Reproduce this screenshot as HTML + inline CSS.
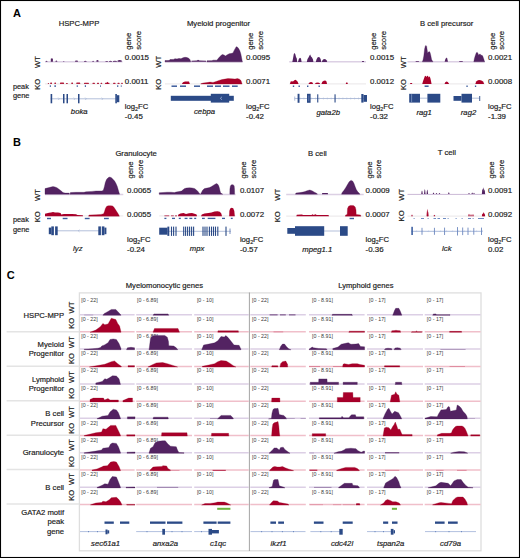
<!DOCTYPE html>
<html><head><meta charset="utf-8"><style>
html,body{margin:0;padding:0;background:#fff;width:520px;height:558px;overflow:hidden}
text{font-family:"Liberation Sans",sans-serif}
</style></head><body>
<svg width="520" height="558" viewBox="0 0 520 558" style="position:absolute;left:0;top:0;font-family:'Liberation Sans', sans-serif">
<rect x="0" y="0" width="520" height="558" fill="#fff"/>
<text x="13" y="17.2" font-size="11" text-anchor="start" fill="#000" font-weight="bold">A</text>
<text x="13" y="146" font-size="11" text-anchor="start" fill="#000" font-weight="bold">B</text>
<text x="6.8" y="278.6" font-size="11" text-anchor="start" fill="#000" font-weight="bold">C</text>
<text x="58.7" y="26.2" font-size="7.7" text-anchor="start" fill="#1a1a1a" stroke="#1a1a1a" stroke-width="0.18">HSPC-MPP</text>
<text x="186.9" y="26.2" font-size="7.7" text-anchor="start" fill="#1a1a1a" stroke="#1a1a1a" stroke-width="0.18">Myeloid progenitor</text>
<text x="420" y="26.2" font-size="7.7" text-anchor="start" fill="#1a1a1a" stroke="#1a1a1a" stroke-width="0.18">B cell precursor</text>
<text x="13" y="89.3" font-size="7.3" text-anchor="start" fill="#1a1a1a" stroke="#1a1a1a" stroke-width="0.18">peak</text>
<text x="13" y="98.4" font-size="7.4" text-anchor="start" fill="#1a1a1a" stroke="#1a1a1a" stroke-width="0.18">gene</text>
<text x="40" y="62" font-size="7.7" text-anchor="middle" fill="#1a1a1a" stroke="#1a1a1a" stroke-width="0.18" transform="rotate(-90 40 62)">WT</text>
<text x="40" y="84.3" font-size="7.7" text-anchor="middle" fill="#1a1a1a" stroke="#1a1a1a" stroke-width="0.18" transform="rotate(-90 40 84.3)">KO</text>
<line x1="45" y1="61.8" x2="122.5" y2="61.8" stroke="#dcd0e4" stroke-width="1.5"/>
<line x1="45" y1="83.9" x2="122.5" y2="83.9" stroke="#eeebed" stroke-width="1.3"/>
<path d="M45.7,61.8 L45.7,61.2 L46.55,60.8 L47.4,61.2 L47.4,61.8 Z" fill="#532362"/>
<path d="M50.8,61.8 L50.8,58.7 L51.85,58.3 L52.9,58.7 L52.9,61.8 Z" fill="#532362"/>
<path d="M55.5,61.8 L55.5,61 L56.35,60.6 L57.2,61 L57.2,61.8 Z" fill="#532362"/>
<path d="M63.2,61.8 L63.2,61.4 L63.8,61 L64.4,61.4 L64.4,61.8 Z" fill="#532362"/>
<path d="M75.1,61.8 L75.1,60.8 L76.5,60.4 L77.9,60.8 L77.9,61.8 Z" fill="#532362"/>
<path d="M84,61.8 L84,61.2 L85.3,60.8 L86.6,61.2 L86.6,61.8 Z" fill="#532362"/>
<path d="M92.3,61.8 L92.3,61.2 L93.1,60.8 L93.9,61.2 L93.9,61.8 Z" fill="#532362"/>
<path d="M96.4,61.8 L96.4,60.4 L97.45,60 L98.5,60.4 L98.5,61.8 Z" fill="#532362"/>
<path d="M105.4,61.8 L105.4,61.3 L106.7,60.9 L108,61.3 L108,61.8 Z" fill="#532362"/>
<path d="M109,61.8 L109,61.2 L110.5,60.8 L112,61.2 L112,61.8 Z" fill="#532362"/>
<path d="M113,61.8 L113,61.1 L114.9,60.7 L116.8,61.1 L116.8,61.8 Z" fill="#532362"/>
<path d="M117.6,61.8 L117.6,60.5 L119.65,60.1 L121.7,60.5 L121.7,61.8 Z" fill="#532362"/>
<path d="M47.8,84 L47.8,83.4 L48.2,82.9 L48.6,82.9 L49,83.4 L49,84 Z" fill="#b3213f"/>
<path d="M50.2,84 L50.2,82.9 L50.6,82.4 L51.6,82.4 L52,82.9 L52,84 Z" fill="#b3213f"/>
<path d="M54.4,84 L54.4,83.1 L54.8,82.6 L55.6,82.6 L56,83.1 L56,84 Z" fill="#b3213f"/>
<path d="M60,84 L60,83 L60.4,82.5 L63.6,82.5 L64,83 L64,84 Z" fill="#b3213f"/>
<path d="M66,84 L66,83.4 L66.4,82.9 L67.4,82.9 L67.8,83.4 L67.8,84 Z" fill="#b3213f"/>
<path d="M71.3,84 L71.3,83.1 L71.7,82.6 L72.6,82.6 L73,83.1 L73,84 Z" fill="#b3213f"/>
<path d="M76.3,84 L76.3,83 L76.7,82.5 L79.8,82.5 L80.2,83 L80.2,84 Z" fill="#b3213f"/>
<path d="M84,84 L84,83.3 L84.4,82.8 L88.5,82.8 L88.9,83.3 L88.9,84 Z" fill="#b3213f"/>
<path d="M92.5,84 L92.5,83.3 L92.9,82.8 L94.5,82.8 L94.9,83.3 L94.9,84 Z" fill="#b3213f"/>
<path d="M97,84 L97,83.3 L97.4,82.8 L98.6,82.8 L99,83.3 L99,84 Z" fill="#b3213f"/>
<path d="M100.6,84 L100.6,83.3 L101,82.8 L101.8,82.8 L102.2,83.3 L102.2,84 Z" fill="#b3213f"/>
<path d="M105,84 L105,83.3 L105.4,82.8 L109.1,82.8 L109.5,83.3 L109.5,84 Z" fill="#b3213f"/>
<path d="M113.1,84 L113.1,83.3 L113.5,82.8 L115.1,82.8 L115.5,83.3 L115.5,84 Z" fill="#b3213f"/>
<path d="M117.5,84 L117.5,83.3 L117.9,82.8 L119.2,82.8 L119.6,83.3 L119.6,84 Z" fill="#b3213f"/>
<path d="M121.2,84 L121.2,83.3 L121.6,82.8 L122.4,82.8 L122.8,83.3 L122.8,84 Z" fill="#b3213f"/>
<path d="M106.6,84 L106.6,83 L107.4,81.8 L108.2,83 L108.2,84 Z" fill="#a8002a"/>
<rect x="49.8" y="85.3" width="1.1" height="1.6" fill="#3c5c9c"/>
<rect x="54.4" y="85.3" width="1.5" height="1.6" fill="#3c5c9c"/>
<rect x="76.7" y="85.3" width="1.1" height="1.6" fill="#3c5c9c"/>
<rect x="84.8" y="85.3" width="1.2" height="1.6" fill="#3c5c9c"/>
<rect x="100.2" y="85.3" width="0.8" height="1.6" fill="#3c5c9c"/>
<rect x="117.1" y="85.3" width="1.2" height="1.6" fill="#3c5c9c"/>
<rect x="120.8" y="85.3" width="0.8" height="1.6" fill="#3c5c9c"/>
<line x1="50.6" y1="98.8" x2="118.8" y2="98.8" stroke="#aab8d6" stroke-width="0.9"/>
<path d="M58.2,97.6 L59.4,98.8 L58.2,100" fill="none" stroke="#aab8d6" stroke-width="0.7"/>
<path d="M73.8,97.6 L75,98.8 L73.8,100" fill="none" stroke="#aab8d6" stroke-width="0.7"/>
<path d="M85.2,97.6 L86.4,98.8 L85.2,100" fill="none" stroke="#aab8d6" stroke-width="0.7"/>
<path d="M101.7,97.6 L102.9,98.8 L101.7,100" fill="none" stroke="#aab8d6" stroke-width="0.7"/>
<rect x="50.6" y="94" width="1.6" height="9.3" fill="#2b4a87"/>
<rect x="63" y="94" width="1.5" height="9.3" fill="#2b4a87"/>
<rect x="66.5" y="94" width="1.5" height="9.3" fill="#2b4a87"/>
<rect x="78" y="94" width="1.5" height="9.3" fill="#2b4a87"/>
<rect x="115.3" y="94" width="1.6" height="9.3" fill="#2b4a87"/>
<rect x="116.9" y="95.2" width="2.4" height="7" fill="#2b4a87"/>
<text x="79.2" y="113.8" font-size="7.7" text-anchor="middle" fill="#1a1a1a" stroke="#1a1a1a" stroke-width="0.18" font-style="italic">boka</text>
<text x="131.5" y="49.8" font-size="7.7" text-anchor="start" fill="#1a1a1a" stroke="#1a1a1a" stroke-width="0.18" transform="rotate(-90 131.5 49.8)">gene</text>
<text x="141" y="49.8" font-size="7.7" text-anchor="start" fill="#1a1a1a" stroke="#1a1a1a" stroke-width="0.18" transform="rotate(-90 141 49.8)">score</text>
<text x="124.8" y="59.8" font-size="7.9" text-anchor="start" fill="#1a1a1a" stroke="#1a1a1a" stroke-width="0.18">0.0015</text>
<text x="124.8" y="83.7" font-size="7.9" text-anchor="start" fill="#1a1a1a" stroke="#1a1a1a" stroke-width="0.18">0.0011</text>
<text x="124.8" y="109" font-size="7.7" fill="#1a1a1a" stroke="#1a1a1a" stroke-width="0.18">log<tspan font-size="5.3" dy="2">2</tspan><tspan dy="-2">FC</tspan></text>
<text x="124.8" y="118.6" font-size="7.9" text-anchor="start" fill="#1a1a1a" stroke="#1a1a1a" stroke-width="0.18">-0.45</text>
<text x="160.8" y="61.7" font-size="7.7" text-anchor="middle" fill="#1a1a1a" stroke="#1a1a1a" stroke-width="0.18" transform="rotate(-90 160.8 61.7)">WT</text>
<text x="160.8" y="84.3" font-size="7.7" text-anchor="middle" fill="#1a1a1a" stroke="#1a1a1a" stroke-width="0.18" transform="rotate(-90 160.8 84.3)">KO</text>
<line x1="165" y1="61.8" x2="242.8" y2="61.8" stroke="#dcd0e4" stroke-width="1.5"/>
<line x1="165" y1="83.9" x2="242.8" y2="83.9" stroke="#eeebed" stroke-width="1.3"/>
<path d="M165,61.8 L165,60.6 L169,60.6 L170,59.6 L173.5,59.4 L175,58.7 L177,59 L179,58.4 L181,58.8 L183,57.8 L185,57.3 L187,57.6 L189,58.5 L190,59.8 L190.6,61.8 L190.6,61.8 Z" fill="#532362" stroke="#42154f" stroke-width="0.4" stroke-linejoin="round"/>
<path d="M191.5,61.8 L191.5,60.7 L197,60.6 L198,59.8 L199.5,60.6 L206,60.7 L206,61.8 Z" fill="#532362"/>
<path d="M207,61.8 L207,60.8 L212,60.7 L213,60.2 L217,60.2 L218,58.8 L219.3,57.2 L221,55.6 L222.3,54.6 L224,55 L225.4,56 L227,55 L229.2,53.8 L231,53.6 L233,53 L234.2,50.4 L236.3,46.7 L237.5,47.2 L238.6,48.6 L239.8,50.8 L240.8,54 L241.5,57.5 L242.3,61.8 L242.3,61.8 Z" fill="#532362" stroke="#42154f" stroke-width="0.4" stroke-linejoin="round"/>
<path d="M182,84 L182,83.8 L183,82.2 L185,81.6 L189,81.6 L189.8,83.8 L189.8,84 Z" fill="#a8002a"/>
<path d="M200.8,84 L200.8,83.8 L203,83.1 L207,82.6 L210,82.1 L213,82.4 L216,81.6 L219,80.4 L222,79.6 L225,79.1 L228,78.6 L232,78.8 L235,79.1 L237.5,78.5 L239.5,79.2 L241,80.6 L242,83.8 L242,84 Z" fill="#a8002a" stroke="#93001f" stroke-width="0.3" stroke-linejoin="round"/>
<rect x="171.5" y="85.45" width="5.5" height="1.5" fill="#3c5c9c"/>
<rect x="180" y="85.45" width="6" height="1.5" fill="#3c5c9c"/>
<rect x="194" y="85.45" width="6" height="1.5" fill="#3c5c9c"/>
<rect x="207" y="85.45" width="6" height="1.5" fill="#3c5c9c"/>
<rect x="215" y="85.45" width="6" height="1.5" fill="#3c5c9c"/>
<rect x="223" y="85.45" width="6.5" height="1.5" fill="#3c5c9c"/>
<rect x="232" y="85.45" width="5.7" height="1.5" fill="#3c5c9c"/>
<rect x="170.8" y="95.8" width="63" height="5" fill="#2b4a87"/>
<rect x="210.8" y="93.8" width="18.4" height="8.8" fill="#2b4a87"/>
<path d="M222,96.8 L220.3,98.3 L222,99.8" fill="none" stroke="#9fb0d4" stroke-width="0.8"/>
<text x="204.5" y="114.2" font-size="7.7" text-anchor="middle" fill="#1a1a1a" stroke="#1a1a1a" stroke-width="0.18" font-style="italic">cebpa</text>
<text x="253.2" y="49.8" font-size="7.7" text-anchor="start" fill="#1a1a1a" stroke="#1a1a1a" stroke-width="0.18" transform="rotate(-90 253.2 49.8)">gene</text>
<text x="262.7" y="49.8" font-size="7.7" text-anchor="start" fill="#1a1a1a" stroke="#1a1a1a" stroke-width="0.18" transform="rotate(-90 262.7 49.8)">score</text>
<text x="246" y="59.8" font-size="7.9" text-anchor="start" fill="#1a1a1a" stroke="#1a1a1a" stroke-width="0.18">0.0095</text>
<text x="246" y="83.7" font-size="7.9" text-anchor="start" fill="#1a1a1a" stroke="#1a1a1a" stroke-width="0.18">0.0071</text>
<text x="246" y="109" font-size="7.7" fill="#1a1a1a" stroke="#1a1a1a" stroke-width="0.18">log<tspan font-size="5.3" dy="2">2</tspan><tspan dy="-2">FC</tspan></text>
<text x="246" y="118.6" font-size="7.9" text-anchor="start" fill="#1a1a1a" stroke="#1a1a1a" stroke-width="0.18">-0.42</text>
<line x1="289.2" y1="61.8" x2="366" y2="61.8" stroke="#dcd0e4" stroke-width="1.5"/>
<line x1="289.2" y1="83.9" x2="366" y2="83.9" stroke="#eeebed" stroke-width="1.3"/>
<path d="M292.3,62 L292.3,62 L293,58.5 L293.8,54 L294.6,53 L295.4,54.5 L296,57 L296.8,58.5 L297.2,62 L297.2,62 Z" fill="#532362"/>
<path d="M298,62 L298,62 L298.8,59 L300,57.7 L301,58.5 L301.6,62 L301.6,62 Z" fill="#532362"/>
<path d="M306.8,62 L306.8,62 L307.5,59 L308.5,57.6 L309.5,55.6 L310.2,54.6 L311,56.5 L312,57.6 L313,59.5 L313.4,62 L313.4,62 Z" fill="#532362"/>
<path d="M315.8,62 L315.8,62 L316.5,59.5 L317.5,57.5 L318.5,57 L319.8,57.6 L320.6,59 L321.3,62 L321.3,62 Z" fill="#532362"/>
<path d="M321.8,62 L321.8,62 L322.6,60 L324,59 L325.5,59.2 L326.5,60.2 L327.2,62 L327.2,62 Z" fill="#532362"/>
<path d="M361.8,62 L361.8,62 L362.4,61 L363.6,61 L364.2,62 L364.2,62 Z" fill="#532362"/>
<path d="M290,84 L290,83.8 L290.6,81.6 L292,81.2 L293,81.5 L294.4,80.3 L295.4,79.8 L296.5,80.6 L297.5,81.4 L298.5,83.8 L298.5,84 Z" fill="#a8002a"/>
<path d="M308.5,84 L308.5,83.8 L309.5,82.4 L311,82 L312.5,82.6 L313,83.8 L313,84 Z" fill="#a8002a"/>
<path d="M315,84 L315,83.8 L316,82.7 L318,82.5 L319.5,83 L320,83.8 L320,84 Z" fill="#a8002a"/>
<path d="M321.5,84 L321.5,83.8 L322.3,81.8 L323.8,80.8 L325.3,80.6 L326.5,81.6 L327,83.8 L327,84 Z" fill="#a8002a"/>
<path d="M345.8,84 L345.8,83.8 L346.2,82.6 L347.4,82.6 L347.8,83.8 L347.8,84 Z" fill="#a8002a"/>
<rect x="292.8" y="85.5" width="1.4" height="1.5" fill="#3c5c9c"/>
<rect x="298.5" y="85.5" width="1.4" height="1.5" fill="#3c5c9c"/>
<rect x="307" y="85.5" width="1.4" height="1.5" fill="#3c5c9c"/>
<rect x="318.5" y="85.5" width="1.4" height="1.5" fill="#3c5c9c"/>
<line x1="294.5" y1="98.5" x2="366" y2="98.5" stroke="#aab8d6" stroke-width="0.9"/>
<line x1="300" y1="97.6" x2="300" y2="99.4" stroke="#aab8d6" stroke-width="0.6"/>
<line x1="303.9" y1="97.6" x2="303.9" y2="99.4" stroke="#aab8d6" stroke-width="0.6"/>
<line x1="307.8" y1="97.6" x2="307.8" y2="99.4" stroke="#aab8d6" stroke-width="0.6"/>
<line x1="311.7" y1="97.6" x2="311.7" y2="99.4" stroke="#aab8d6" stroke-width="0.6"/>
<line x1="315.6" y1="97.6" x2="315.6" y2="99.4" stroke="#aab8d6" stroke-width="0.6"/>
<line x1="319.5" y1="97.6" x2="319.5" y2="99.4" stroke="#aab8d6" stroke-width="0.6"/>
<line x1="323.4" y1="97.6" x2="323.4" y2="99.4" stroke="#aab8d6" stroke-width="0.6"/>
<line x1="327.3" y1="97.6" x2="327.3" y2="99.4" stroke="#aab8d6" stroke-width="0.6"/>
<line x1="331.2" y1="97.6" x2="331.2" y2="99.4" stroke="#aab8d6" stroke-width="0.6"/>
<line x1="335.1" y1="97.6" x2="335.1" y2="99.4" stroke="#aab8d6" stroke-width="0.6"/>
<line x1="339" y1="97.6" x2="339" y2="99.4" stroke="#aab8d6" stroke-width="0.6"/>
<line x1="342.9" y1="97.6" x2="342.9" y2="99.4" stroke="#aab8d6" stroke-width="0.6"/>
<line x1="346.8" y1="97.6" x2="346.8" y2="99.4" stroke="#aab8d6" stroke-width="0.6"/>
<line x1="350.7" y1="97.6" x2="350.7" y2="99.4" stroke="#aab8d6" stroke-width="0.6"/>
<line x1="354.6" y1="97.6" x2="354.6" y2="99.4" stroke="#aab8d6" stroke-width="0.6"/>
<line x1="358.5" y1="97.6" x2="358.5" y2="99.4" stroke="#aab8d6" stroke-width="0.6"/>
<line x1="362.4" y1="97.6" x2="362.4" y2="99.4" stroke="#aab8d6" stroke-width="0.6"/>
<rect x="294.3" y="96.5" width="0.9" height="4.2" fill="#aab8d6"/>
<rect x="297.6" y="93.8" width="1.9" height="9" fill="#2b4a87"/>
<rect x="307" y="93.8" width="3.6" height="9" fill="#2b4a87"/>
<line x1="308.8" y1="95.5" x2="308.8" y2="101.2" stroke="#7d93c2" stroke-width="0.6"/>
<rect x="317.2" y="94.3" width="1.1" height="8.2" fill="#2b4a87"/>
<rect x="334.5" y="94.3" width="1.1" height="8.2" fill="#2b4a87"/>
<rect x="361.3" y="94" width="2.2" height="8.6" fill="#2b4a87"/>
<rect x="363.5" y="95" width="3.5" height="6.8" fill="#2b4a87"/>
<text x="328.2" y="114.5" font-size="7.7" text-anchor="middle" fill="#1a1a1a" stroke="#1a1a1a" stroke-width="0.18" font-style="italic">gata2b</text>
<text x="376.2" y="49.8" font-size="7.7" text-anchor="start" fill="#1a1a1a" stroke="#1a1a1a" stroke-width="0.18" transform="rotate(-90 376.2 49.8)">gene</text>
<text x="385.7" y="49.8" font-size="7.7" text-anchor="start" fill="#1a1a1a" stroke="#1a1a1a" stroke-width="0.18" transform="rotate(-90 385.7 49.8)">score</text>
<text x="370" y="59.8" font-size="7.9" text-anchor="start" fill="#1a1a1a" stroke="#1a1a1a" stroke-width="0.18">0.0015</text>
<text x="370" y="83.7" font-size="7.9" text-anchor="start" fill="#1a1a1a" stroke="#1a1a1a" stroke-width="0.18">0.0012</text>
<text x="370" y="109" font-size="7.7" fill="#1a1a1a" stroke="#1a1a1a" stroke-width="0.18">log<tspan font-size="5.3" dy="2">2</tspan><tspan dy="-2">FC</tspan></text>
<text x="370" y="118.6" font-size="7.9" text-anchor="start" fill="#1a1a1a" stroke="#1a1a1a" stroke-width="0.18">-0.32</text>
<text x="406" y="62.3" font-size="7.7" text-anchor="middle" fill="#1a1a1a" stroke="#1a1a1a" stroke-width="0.18" transform="rotate(-90 406 62.3)">WT</text>
<text x="406" y="84.5" font-size="7.7" text-anchor="middle" fill="#1a1a1a" stroke="#1a1a1a" stroke-width="0.18" transform="rotate(-90 406 84.5)">KO</text>
<line x1="407.5" y1="61.8" x2="485" y2="61.8" stroke="#dcd0e4" stroke-width="1.5"/>
<line x1="407.5" y1="83.9" x2="485" y2="83.9" stroke="#eeebed" stroke-width="1.3"/>
<path d="M415.4,61.8 L415.4,61.8 L416,61 L418.6,61 L419.2,61.8 L419.2,61.8 Z" fill="#532362"/>
<path d="M422.3,61.8 L422.3,61.8 L423,60 L423.8,56 L424.6,49 L425.3,46 L425.9,45.4 L426.6,46.3 L427.2,50 L427.7,53.2 L428.4,52 L429.2,51.5 L430,52.3 L430.8,55.5 L431.6,59.5 L432.5,61 L433,61.8 L433,61.8 Z" fill="#532362" stroke="#42154f" stroke-width="0.3" stroke-linejoin="round"/>
<path d="M444.6,61.8 L444.6,61.8 L445.3,59.5 L446.2,57.6 L447.2,58.5 L448,61.8 L448,61.8 Z" fill="#532362"/>
<path d="M459,61.8 L459,61.8 L459.5,61 L462.5,61 L463,61.8 L463,61.8 Z" fill="#532362"/>
<path d="M473.8,61.8 L473.8,61.8 L474.4,58.5 L475.3,55.5 L476.3,52.8 L477.2,52.3 L478,53.5 L478.7,55.2 L479.4,54.2 L480.2,54 L481,55.5 L481.8,55 L482.7,56 L483.6,58.5 L484.6,61.8 L484.6,61.8 Z" fill="#532362" stroke="#42154f" stroke-width="0.3" stroke-linejoin="round"/>
<path d="M410,84 L410,83.8 L410.5,83 L411.8,83 L412.3,83.8 L412.3,84 Z" fill="#a8002a"/>
<path d="M422.3,84 L422.3,83.8 L423,81.2 L424,78.5 L424.8,76.2 L425.6,75.8 L426.4,77 L427.2,75.8 L428,76 L428.8,77.5 L429.5,76.3 L430.3,78 L431,81 L431.5,83.8 L431.5,84 Z" fill="#a8002a"/>
<path d="M444.6,84 L444.6,83.8 L445.3,82.2 L446.5,81.4 L447.8,82 L449,83.8 L449,84 Z" fill="#a8002a"/>
<path d="M475.4,84 L475.4,83.8 L476.2,81.6 L477.5,80.4 L479,80 L480.5,80.3 L482,80.8 L483.3,81.8 L484,83.8 L484,84 Z" fill="#a8002a"/>
<rect x="424.6" y="85.45" width="4" height="1.5" fill="#3c5c9c"/>
<rect x="466.4" y="85.5" width="1.3" height="1.5" fill="#3c5c9c"/>
<rect x="474.9" y="85.5" width="1.3" height="1.5" fill="#3c5c9c"/>
<line x1="420" y1="98.2" x2="427.4" y2="98.2" stroke="#aab8d6" stroke-width="0.9"/>
<line x1="472" y1="98.2" x2="479.7" y2="98.2" stroke="#aab8d6" stroke-width="0.9"/>
<rect x="409.2" y="93.8" width="10.8" height="8.8" fill="#2b4a87"/>
<line x1="411.6" y1="94.2" x2="411.6" y2="102.2" stroke="#8ea2cc" stroke-width="0.7"/>
<rect x="427.4" y="93.8" width="12.9" height="8.8" fill="#2b4a87"/>
<rect x="453.5" y="96" width="8" height="4.8" fill="#2b4a87"/>
<rect x="461.5" y="93.8" width="10.5" height="8.8" fill="#2b4a87"/>
<rect x="479.3" y="96" width="0.9" height="5" fill="#2b4a87"/>
<text x="424.2" y="114.5" font-size="7.7" text-anchor="middle" fill="#1a1a1a" stroke="#1a1a1a" stroke-width="0.18" font-style="italic">rag1</text>
<text x="468.5" y="114.5" font-size="7.7" text-anchor="middle" fill="#1a1a1a" stroke="#1a1a1a" stroke-width="0.18" font-style="italic">rag2</text>
<text x="495" y="49.8" font-size="7.7" text-anchor="start" fill="#1a1a1a" stroke="#1a1a1a" stroke-width="0.18" transform="rotate(-90 495 49.8)">gene</text>
<text x="504.5" y="49.8" font-size="7.7" text-anchor="start" fill="#1a1a1a" stroke="#1a1a1a" stroke-width="0.18" transform="rotate(-90 504.5 49.8)">score</text>
<text x="488" y="59.8" font-size="7.9" text-anchor="start" fill="#1a1a1a" stroke="#1a1a1a" stroke-width="0.18">0.0021</text>
<text x="488" y="83.7" font-size="7.9" text-anchor="start" fill="#1a1a1a" stroke="#1a1a1a" stroke-width="0.18">0.0008</text>
<text x="488" y="109" font-size="7.7" fill="#1a1a1a" stroke="#1a1a1a" stroke-width="0.18">log<tspan font-size="5.3" dy="2">2</tspan><tspan dy="-2">FC</tspan></text>
<text x="488" y="118.6" font-size="7.9" text-anchor="start" fill="#1a1a1a" stroke="#1a1a1a" stroke-width="0.18">-1.39</text>
<text x="115.4" y="155.8" font-size="7.7" text-anchor="start" fill="#1a1a1a" stroke="#1a1a1a" stroke-width="0.18">Granulocyte</text>
<text x="308" y="155.5" font-size="7.7" text-anchor="start" fill="#1a1a1a" stroke="#1a1a1a" stroke-width="0.18">B cell</text>
<text x="437.8" y="155.3" font-size="7.7" text-anchor="start" fill="#1a1a1a" stroke="#1a1a1a" stroke-width="0.18">T cell</text>
<text x="13" y="221.8" font-size="7.3" text-anchor="start" fill="#1a1a1a" stroke="#1a1a1a" stroke-width="0.18">peak</text>
<text x="13" y="232.4" font-size="7.4" text-anchor="start" fill="#1a1a1a" stroke="#1a1a1a" stroke-width="0.18">gene</text>
<text x="39.6" y="194.9" font-size="7.7" text-anchor="middle" fill="#1a1a1a" stroke="#1a1a1a" stroke-width="0.18" transform="rotate(-90 39.6 194.9)">WT</text>
<text x="39.6" y="216.7" font-size="7.7" text-anchor="middle" fill="#1a1a1a" stroke="#1a1a1a" stroke-width="0.18" transform="rotate(-90 39.6 216.7)">KO</text>
<line x1="45" y1="194.4" x2="123.3" y2="194.4" stroke="#dcd0e4" stroke-width="1.5"/>
<line x1="45" y1="215.9" x2="123.3" y2="215.9" stroke="#eeebed" stroke-width="1.3"/>
<path d="M45,194.2 L45,188.6 L47,188.1 L49,187.6 L51,187 L53,186.6 L55,186.9 L57,187.8 L59,189.2 L61,190.8 L63,192.6 L65,193.1 L69.2,193.1 L69.4,194.2 L69.4,194.2 Z" fill="#532362" stroke="#42154f" stroke-width="0.3" stroke-linejoin="round"/>
<path d="M70,194.2 L70,194.2 L70.4,192.5 L76,192.3 L84,192.3 L86,191.8 L92,191.4 L96,191 L102,190.9 L103.3,190.2 L104.3,187 L105.3,182.5 L106.5,179.5 L108,177.8 L109.8,177 L111.5,177.8 L113,179.2 L114.6,181 L116,183.5 L117.3,186.5 L118.3,190 L119.2,193 L119.6,194.2 L119.6,194.2 Z" fill="#532362" stroke="#42154f" stroke-width="0.3" stroke-linejoin="round"/>
<path d="M45,216.2 L45,213.8 L47,213.3 L49,212.8 L51,212.4 L53,212.1 L55,212.4 L58,212.5 L60.6,212.9 L61.2,214.4 L64,214.1 L72,214.1 L76,214.3 L77.5,215 L82.8,215.3 L83,216.2 L83,216.2 Z" fill="#a8002a"/>
<path d="M88.6,216.2 L88.6,216.2 L89,215.1 L96,214.8 L101,214.4 L103.6,213.8 L104.5,211.5 L105.5,208.2 L106.8,206.2 L108.5,205.7 L111,205.7 L112.6,206 L114,207.3 L115.6,209.8 L117.2,212.3 L118.6,214.5 L119.4,216.2 L119.4,216.2 Z" fill="#a8002a" stroke="#93001f" stroke-width="0.3" stroke-linejoin="round"/>
<rect x="47" y="217.8" width="4" height="1.4" fill="#3c5c9c"/>
<rect x="62.7" y="217.8" width="4.8" height="1.4" fill="#3c5c9c"/>
<rect x="84.8" y="217.8" width="4.8" height="1.4" fill="#3c5c9c"/>
<rect x="104" y="217.8" width="4.8" height="1.4" fill="#3c5c9c"/>
<line x1="57" y1="230.8" x2="99" y2="230.8" stroke="#aab8d6" stroke-width="0.9"/>
<path d="M79.5,229.7 L78.2,230.8 L79.5,231.9" fill="none" stroke="#aab8d6" stroke-width="0.7"/>
<rect x="48.8" y="227.6" width="2.6" height="6.6" fill="#2b4a87"/>
<rect x="51.3" y="226.4" width="2.6" height="8.8" fill="#2b4a87"/>
<rect x="55.1" y="226.4" width="2.6" height="8.8" fill="#2b4a87"/>
<rect x="98.3" y="226.4" width="2.6" height="8.8" fill="#2b4a87"/>
<rect x="101.8" y="226.4" width="2.6" height="8.8" fill="#2b4a87"/>
<rect x="104.4" y="227.6" width="2" height="6.6" fill="#2b4a87"/>
<text x="77.8" y="251" font-size="7.7" text-anchor="middle" fill="#1a1a1a" stroke="#1a1a1a" stroke-width="0.18" font-style="italic">lyz</text>
<text x="133" y="178.5" font-size="7.7" text-anchor="start" fill="#1a1a1a" stroke="#1a1a1a" stroke-width="0.18" transform="rotate(-90 133 178.5)">gene</text>
<text x="142.5" y="178.5" font-size="7.7" text-anchor="start" fill="#1a1a1a" stroke="#1a1a1a" stroke-width="0.18" transform="rotate(-90 142.5 178.5)">score</text>
<text x="127" y="192.6" font-size="7.9" text-anchor="start" fill="#1a1a1a" stroke="#1a1a1a" stroke-width="0.18">0.0065</text>
<text x="127" y="217.3" font-size="7.9" text-anchor="start" fill="#1a1a1a" stroke="#1a1a1a" stroke-width="0.18">0.0055</text>
<text x="127" y="242.3" font-size="7.7" fill="#1a1a1a" stroke="#1a1a1a" stroke-width="0.18">log<tspan font-size="5.3" dy="2">2</tspan><tspan dy="-2">FC</tspan></text>
<text x="127" y="251.9" font-size="7.9" text-anchor="start" fill="#1a1a1a" stroke="#1a1a1a" stroke-width="0.18">-0.24</text>
<line x1="159.2" y1="194.4" x2="235.6" y2="194.4" stroke="#dcd0e4" stroke-width="1.5"/>
<line x1="159.2" y1="215.9" x2="235.6" y2="215.9" stroke="#eeebed" stroke-width="1.3"/>
<path d="M159.2,194.2 L159.2,192.7 L163,192.5 L167,192.2 L171,192.2 L174.5,192.6 L176,192.1 L179,191.6 L181.5,191 L183,189.8 L184.6,188.6 L186.5,188 L189.5,187.8 L192,187.9 L194.5,188.5 L196.2,189.7 L198,191.5 L199.4,193.4 L200.4,194.2 L200.4,194.2 Z" fill="#532362" stroke="#42154f" stroke-width="0.3" stroke-linejoin="round"/>
<path d="M200.6,194.2 L200.6,194.2 L201.4,192.4 L202.8,190 L204.5,188.6 L207,188.1 L209.5,187.6 L211.5,186.6 L213.5,185.2 L215.2,184.3 L216.3,183.6 L217.5,184 L218.6,185.5 L219.4,188 L220,190.8 L220.6,192.8 L221.6,193.6 L222.7,194.2 L222.7,194.2 Z" fill="#532362" stroke="#42154f" stroke-width="0.3" stroke-linejoin="round"/>
<path d="M229.8,194.2 L229.8,194.2 L229.9,189 L230.4,186 L231.4,184.8 L233.2,184.7 L234.2,186 L234.5,189 L234.6,194.2 L234.6,194.2 Z" fill="#532362" stroke="#42154f" stroke-width="0.3" stroke-linejoin="round"/>
<path d="M164.4,216.2 L164.4,215.5 L169.2,215.5 L169.2,216.2 Z" fill="#a8002a"/>
<path d="M171,216.2 L171,215.5 L173.8,215.5 L173.8,216.2 Z" fill="#a8002a"/>
<path d="M175,216.2 L175,215.5 L177,215.5 L177,216.2 Z" fill="#a8002a"/>
<path d="M177.9,216.2 L177.9,216.2 L178.4,214.6 L180.5,213.6 L183.5,213.1 L186,213.9 L189,213.2 L192,213 L194.5,213.8 L196.6,214.6 L197,216.2 L197,216.2 Z" fill="#a8002a"/>
<path d="M201,216.2 L201,216.2 L201.8,214.6 L204.5,213.6 L208.5,213 L211.5,212.4 L214.5,211.6 L217.5,211.2 L219.8,211.8 L221.3,213.6 L222,216.2 L222,216.2 Z" fill="#a8002a"/>
<path d="M229.2,216.2 L229.2,216.2 L229.4,211 L230.2,208.6 L231.6,207.7 L233.2,208.3 L234.3,211 L234.8,216.2 L234.8,216.2 Z" fill="#a8002a"/>
<rect x="164.4" y="217.75" width="2" height="1.3" fill="#3c5c9c"/>
<rect x="172" y="217.75" width="3" height="1.3" fill="#3c5c9c"/>
<rect x="178.8" y="217.75" width="2" height="1.3" fill="#3c5c9c"/>
<rect x="184.6" y="217.75" width="2.9" height="1.3" fill="#3c5c9c"/>
<rect x="189.4" y="217.75" width="2.9" height="1.3" fill="#3c5c9c"/>
<rect x="194.2" y="217.75" width="2" height="1.3" fill="#3c5c9c"/>
<rect x="202" y="217.75" width="2.8" height="1.3" fill="#3c5c9c"/>
<rect x="207.7" y="217.75" width="7.7" height="1.3" fill="#3c5c9c"/>
<rect x="222" y="217.75" width="3" height="1.3" fill="#3c5c9c"/>
<rect x="230.8" y="217.75" width="1.9" height="1.3" fill="#3c5c9c"/>
<line x1="167" y1="231.3" x2="231" y2="231.3" stroke="#aab8d6" stroke-width="0.9"/>
<rect x="159.2" y="227.7" width="8.3" height="7" fill="#2b4a87"/>
<rect x="167.4" y="226.6" width="1.9" height="9.3" fill="#2b4a87"/>
<rect x="170.95" y="226.6" width="1.1" height="9.3" fill="#2b4a87"/>
<rect x="173.05" y="226.6" width="1.1" height="9.3" fill="#2b4a87"/>
<rect x="175.45" y="226.6" width="1.1" height="9.3" fill="#2b4a87"/>
<rect x="183.15" y="226.6" width="1.1" height="9.3" fill="#2b4a87"/>
<rect x="185.05" y="226.6" width="1.1" height="9.3" fill="#2b4a87"/>
<rect x="187.05" y="226.6" width="1.1" height="9.3" fill="#2b4a87"/>
<rect x="189.05" y="226.6" width="1.1" height="9.3" fill="#2b4a87"/>
<rect x="191.05" y="226.6" width="1.1" height="9.3" fill="#2b4a87"/>
<rect x="193.05" y="226.6" width="1.1" height="9.3" fill="#2b4a87"/>
<rect x="202.45" y="226.6" width="1.1" height="9.3" fill="#2b4a87"/>
<rect x="204.45" y="226.6" width="1.1" height="9.3" fill="#2b4a87"/>
<rect x="206.45" y="226.6" width="1.1" height="9.3" fill="#2b4a87"/>
<rect x="208.85" y="226.6" width="1.1" height="9.3" fill="#2b4a87"/>
<rect x="210.95" y="226.6" width="1.1" height="9.3" fill="#2b4a87"/>
<rect x="212.95" y="226.6" width="1.1" height="9.3" fill="#2b4a87"/>
<rect x="214.95" y="226.6" width="1.1" height="9.3" fill="#2b4a87"/>
<rect x="217.25" y="226.6" width="1.1" height="9.3" fill="#2b4a87"/>
<rect x="225.45" y="226.6" width="1.1" height="9.3" fill="#2b4a87"/>
<rect x="229.6" y="228.5" width="0.8" height="5.5" fill="#5a76ae"/>
<text x="197" y="251.2" font-size="7.7" text-anchor="middle" fill="#1a1a1a" stroke="#1a1a1a" stroke-width="0.18" font-style="italic">mpx</text>
<text x="246" y="178.5" font-size="7.7" text-anchor="start" fill="#1a1a1a" stroke="#1a1a1a" stroke-width="0.18" transform="rotate(-90 246 178.5)">gene</text>
<text x="255.5" y="178.5" font-size="7.7" text-anchor="start" fill="#1a1a1a" stroke="#1a1a1a" stroke-width="0.18" transform="rotate(-90 255.5 178.5)">score</text>
<text x="239.9" y="192.6" font-size="7.9" text-anchor="start" fill="#1a1a1a" stroke="#1a1a1a" stroke-width="0.18">0.0107</text>
<text x="239.9" y="217.3" font-size="7.9" text-anchor="start" fill="#1a1a1a" stroke="#1a1a1a" stroke-width="0.18">0.0072</text>
<text x="239.9" y="242.3" font-size="7.7" fill="#1a1a1a" stroke="#1a1a1a" stroke-width="0.18">log<tspan font-size="5.3" dy="2">2</tspan><tspan dy="-2">FC</tspan></text>
<text x="239.9" y="251.9" font-size="7.9" text-anchor="start" fill="#1a1a1a" stroke="#1a1a1a" stroke-width="0.18">-0.57</text>
<text x="280.5" y="194.8" font-size="7.7" text-anchor="middle" fill="#1a1a1a" stroke="#1a1a1a" stroke-width="0.18" transform="rotate(-90 280.5 194.8)">WT</text>
<text x="280.5" y="216.8" font-size="7.7" text-anchor="middle" fill="#1a1a1a" stroke="#1a1a1a" stroke-width="0.18" transform="rotate(-90 280.5 216.8)">KO</text>
<line x1="286.2" y1="194.4" x2="363.7" y2="194.4" stroke="#dcd0e4" stroke-width="1.5"/>
<line x1="286.2" y1="216.2" x2="363.7" y2="216.2" stroke="#eeebed" stroke-width="1.3"/>
<path d="M295.4,194.2 L295.4,194.2 L296,193 L300,192.6 L303,192.1 L305,191.6 L307,190.7 L309.8,190 L312,190.8 L314.5,192.2 L316.5,193.2 L317.5,194.2 L317.5,194.2 Z" fill="#532362" stroke="#42154f" stroke-width="0.3" stroke-linejoin="round"/>
<path d="M322,194.2 L322,194.2 L322.2,193 L327.8,193 L328,194.2 L328,194.2 Z" fill="#532362"/>
<path d="M341.5,194.2 L341.5,194.2 L342.2,192.5 L344,190.2 L345.8,187.4 L347.5,184.6 L349,182 L350.3,180.7 L351.5,180.4 L352.8,181.2 L354,183.5 L355.2,186.8 L356.3,189.6 L357.6,191.6 L359.2,193.2 L360,194.2 L360,194.2 Z" fill="#532362" stroke="#42154f" stroke-width="0.3" stroke-linejoin="round"/>
<path d="M296.3,216.2 L296.3,216.3 L296.8,214.7 L302,214.6 L303,215 L311.5,215 L312.6,214.2 L313.6,215 L315.6,214.2 L316.6,215 L328.5,215.1 L329,216.3 L329,216.2 Z" fill="#a8002a"/>
<path d="M345.4,216.2 L345.4,216.3 L345.6,215 L347.2,214.6 L347.5,208.6 L348.6,206.3 L350.2,205.5 L352.2,205.4 L354,205.8 L355.3,207.2 L356,210 L356.2,214.5 L360.6,215 L360.8,216.3 L360.8,216.2 Z" fill="#a8002a" stroke="#93001f" stroke-width="0.3" stroke-linejoin="round"/>
<rect x="349.6" y="217.8" width="4.4" height="1.4" fill="#3c5c9c"/>
<line x1="324" y1="231" x2="340.5" y2="231" stroke="#aab8d6" stroke-width="0.9"/>
<rect x="287.3" y="228" width="7.8" height="5.8" fill="#2b4a87"/>
<rect x="295" y="226.2" width="29.2" height="9.6" fill="#2b4a87"/>
<rect x="340" y="226.2" width="7.7" height="9.6" fill="#2b4a87"/>
<text x="317.2" y="251.6" font-size="7.7" text-anchor="middle" fill="#1a1a1a" stroke="#1a1a1a" stroke-width="0.18" font-style="italic">mpeg1.1</text>
<text x="371.7" y="178.5" font-size="7.7" text-anchor="start" fill="#1a1a1a" stroke="#1a1a1a" stroke-width="0.18" transform="rotate(-90 371.7 178.5)">gene</text>
<text x="381.2" y="178.5" font-size="7.7" text-anchor="start" fill="#1a1a1a" stroke="#1a1a1a" stroke-width="0.18" transform="rotate(-90 381.2 178.5)">score</text>
<text x="365.6" y="192.6" font-size="7.9" text-anchor="start" fill="#1a1a1a" stroke="#1a1a1a" stroke-width="0.18">0.0009</text>
<text x="365.6" y="217.3" font-size="7.9" text-anchor="start" fill="#1a1a1a" stroke="#1a1a1a" stroke-width="0.18">0.0007</text>
<text x="365.6" y="242.3" font-size="7.7" fill="#1a1a1a" stroke="#1a1a1a" stroke-width="0.18">log<tspan font-size="5.3" dy="2">2</tspan><tspan dy="-2">FC</tspan></text>
<text x="365.6" y="251.9" font-size="7.9" text-anchor="start" fill="#1a1a1a" stroke="#1a1a1a" stroke-width="0.18">-0.36</text>
<text x="403.7" y="194.8" font-size="7.7" text-anchor="middle" fill="#1a1a1a" stroke="#1a1a1a" stroke-width="0.18" transform="rotate(-90 403.7 194.8)">WT</text>
<text x="403.7" y="215.9" font-size="7.7" text-anchor="middle" fill="#1a1a1a" stroke="#1a1a1a" stroke-width="0.18" transform="rotate(-90 403.7 215.9)">KO</text>
<line x1="407.5" y1="194.4" x2="485.4" y2="194.4" stroke="#cbb9d6" stroke-width="1"/>
<line x1="407.5" y1="216.2" x2="485.4" y2="216.2" stroke="#eeebed" stroke-width="1.3"/>
<path d="M421.25,194 L421.25,194 L421.62,191.48 L422,190.4 L422.38,191.48 L422.75,194 L422.75,194 Z" fill="#532362"/>
<path d="M424.05,194 L424.05,194 L424.43,190.5 L424.8,189 L425.18,190.5 L425.55,194 L425.55,194 Z" fill="#532362"/>
<path d="M426.55,194 L426.55,194 L426.93,190.78 L427.3,189.4 L427.68,190.78 L428.05,194 L428.05,194 Z" fill="#532362"/>
<path d="M432.75,194 L432.75,194 L433.12,192.88 L433.5,192.4 L433.88,192.88 L434.25,194 L434.25,194 Z" fill="#532362"/>
<path d="M435.75,194 L435.75,194 L436.12,193.3 L436.5,193 L436.88,193.3 L437.25,194 L437.25,194 Z" fill="#532362"/>
<path d="M438.75,194 L438.75,194 L439.12,193.3 L439.5,193 L439.88,193.3 L440.25,194 L440.25,194 Z" fill="#532362"/>
<path d="M448.05,194 L448.05,194 L448.43,192.81 L448.8,192.3 L449.18,192.81 L449.55,194 L449.55,194 Z" fill="#532362"/>
<path d="M468.25,194 L468.25,194 L468.62,193.3 L469,193 L469.38,193.3 L469.75,194 L469.75,194 Z" fill="#532362"/>
<path d="M471.45,194 L471.45,194 L471.82,193.02 L472.2,192.6 L472.57,193.02 L472.95,194 L472.95,194 Z" fill="#532362"/>
<path d="M473.25,194 L473.25,194 L473.62,193.16 L474,192.8 L474.38,193.16 L474.75,194 L474.75,194 Z" fill="#532362"/>
<path d="M481.85,194 L481.85,194 L482.23,190.15 L482.6,188.5 L482.98,190.15 L483.35,194 L483.35,194 Z" fill="#532362"/>
<path d="M482.85,194 L482.85,194 L483.23,189.24 L483.6,187.2 L483.98,189.24 L484.35,194 L484.35,194 Z" fill="#532362"/>
<path d="M483.65,194 L483.65,194 L484.02,190.85 L484.4,189.5 L484.77,190.85 L485.15,194 L485.15,194 Z" fill="#532362"/>
<path d="M411.25,216.2 L411.25,216.2 L411.62,215.08 L412,214.6 L412.38,215.08 L412.75,216.2 L412.75,216.2 Z" fill="#a8002a"/>
<path d="M426.55,216.2 L426.55,216.2 L426.93,211.02 L427.3,208.8 L427.68,211.02 L428.05,216.2 L428.05,216.2 Z" fill="#a8002a"/>
<path d="M427.15,216.2 L427.15,216.2 L427.52,212.56 L427.9,211 L428.27,212.56 L428.65,216.2 L428.65,216.2 Z" fill="#a8002a"/>
<path d="M433.65,216.2 L433.65,216.2 L434.02,215.22 L434.4,214.8 L434.77,215.22 L435.15,216.2 L435.15,216.2 Z" fill="#a8002a"/>
<path d="M468.25,216.2 L468.25,216.2 L468.62,214.52 L469,213.8 L469.38,214.52 L469.75,216.2 L469.75,216.2 Z" fill="#a8002a"/>
<path d="M470.25,216.2 L470.25,216.2 L470.62,214.87 L471,214.3 L471.38,214.87 L471.75,216.2 L471.75,216.2 Z" fill="#a8002a"/>
<path d="M472.25,216.2 L472.25,216.2 L472.62,214.66 L473,214 L473.38,214.66 L473.75,216.2 L473.75,216.2 Z" fill="#a8002a"/>
<path d="M481.85,216.2 L481.85,216.2 L482.23,214.31 L482.6,213.5 L482.98,214.31 L483.35,216.2 L483.35,216.2 Z" fill="#a8002a"/>
<path d="M482.75,216.2 L482.75,216.2 L483.12,213.26 L483.5,212 L483.88,213.26 L484.25,216.2 L484.25,216.2 Z" fill="#a8002a"/>
<path d="M483.65,216.2 L483.65,216.2 L484.02,214.1 L484.4,213.2 L484.77,214.1 L485.15,216.2 L485.15,216.2 Z" fill="#a8002a"/>
<rect x="413.6" y="218" width="1" height="1" fill="#6f8bc2"/>
<rect x="421" y="218" width="3" height="1" fill="#6f8bc2"/>
<rect x="427.6" y="218" width="1" height="1" fill="#6f8bc2"/>
<rect x="433.5" y="218" width="2.5" height="1" fill="#6f8bc2"/>
<rect x="437.5" y="218" width="2.5" height="1" fill="#6f8bc2"/>
<rect x="443" y="218" width="3" height="1" fill="#6f8bc2"/>
<rect x="447.6" y="218" width="1" height="1" fill="#6f8bc2"/>
<rect x="455.6" y="218" width="1" height="1" fill="#6f8bc2"/>
<rect x="461.6" y="218" width="1" height="1" fill="#6f8bc2"/>
<rect x="468" y="218" width="3" height="1" fill="#6f8bc2"/>
<rect x="472.6" y="218" width="1" height="1" fill="#6f8bc2"/>
<rect x="478" y="218" width="6" height="1" fill="#6f8bc2"/>
<line x1="411.3" y1="231.3" x2="482.5" y2="231.3" stroke="#9fb1d6" stroke-width="0.9"/>
<path d="M416.6,230.5 L416,231.3 L416.6,232.1" fill="none" stroke="#9fb1d6" stroke-width="0.5"/>
<path d="M422.6,230.5 L422,231.3 L422.6,232.1" fill="none" stroke="#9fb1d6" stroke-width="0.5"/>
<path d="M428.6,230.5 L428,231.3 L428.6,232.1" fill="none" stroke="#9fb1d6" stroke-width="0.5"/>
<path d="M434.6,230.5 L434,231.3 L434.6,232.1" fill="none" stroke="#9fb1d6" stroke-width="0.5"/>
<path d="M440.6,230.5 L440,231.3 L440.6,232.1" fill="none" stroke="#9fb1d6" stroke-width="0.5"/>
<path d="M446.6,230.5 L446,231.3 L446.6,232.1" fill="none" stroke="#9fb1d6" stroke-width="0.5"/>
<path d="M452.6,230.5 L452,231.3 L452.6,232.1" fill="none" stroke="#9fb1d6" stroke-width="0.5"/>
<path d="M458.6,230.5 L458,231.3 L458.6,232.1" fill="none" stroke="#9fb1d6" stroke-width="0.5"/>
<path d="M464.6,230.5 L464,231.3 L464.6,232.1" fill="none" stroke="#9fb1d6" stroke-width="0.5"/>
<path d="M470.6,230.5 L470,231.3 L470.6,232.1" fill="none" stroke="#9fb1d6" stroke-width="0.5"/>
<path d="M476.6,230.5 L476,231.3 L476.6,232.1" fill="none" stroke="#9fb1d6" stroke-width="0.5"/>
<path d="M482.6,230.5 L482,231.3 L482.6,232.1" fill="none" stroke="#9fb1d6" stroke-width="0.5"/>
<rect x="411.3" y="226.8" width="1.6" height="8.2" fill="#3f62a3"/>
<rect x="421.55" y="227.8" width="0.9" height="7" fill="#6d88bf"/>
<rect x="433.95" y="227.8" width="0.9" height="7" fill="#6d88bf"/>
<rect x="444.15" y="227.6" width="0.9" height="7.4" fill="#6d88bf"/>
<rect x="457.05" y="227.1" width="0.9" height="8.4" fill="#6d88bf"/>
<rect x="462.25" y="227.5" width="0.9" height="7.6" fill="#6d88bf"/>
<rect x="467.55" y="227.6" width="0.9" height="7.4" fill="#6d88bf"/>
<rect x="473.35" y="227.9" width="0.9" height="6.8" fill="#6d88bf"/>
<rect x="481.05" y="227.6" width="0.9" height="7.4" fill="#6d88bf"/>
<text x="446.8" y="251.2" font-size="7.7" text-anchor="middle" fill="#1a1a1a" stroke="#1a1a1a" stroke-width="0.18" font-style="italic">lck</text>
<text x="494.2" y="178.5" font-size="7.7" text-anchor="start" fill="#1a1a1a" stroke="#1a1a1a" stroke-width="0.18" transform="rotate(-90 494.2 178.5)">gene</text>
<text x="503.7" y="178.5" font-size="7.7" text-anchor="start" fill="#1a1a1a" stroke="#1a1a1a" stroke-width="0.18" transform="rotate(-90 503.7 178.5)">score</text>
<text x="488" y="192.6" font-size="7.9" text-anchor="start" fill="#1a1a1a" stroke="#1a1a1a" stroke-width="0.18">0.0091</text>
<text x="488" y="217.3" font-size="7.9" text-anchor="start" fill="#1a1a1a" stroke="#1a1a1a" stroke-width="0.18">0.0092</text>
<text x="488" y="242.3" font-size="7.7" fill="#1a1a1a" stroke="#1a1a1a" stroke-width="0.18">log<tspan font-size="5.3" dy="2">2</tspan><tspan dy="-2">FC</tspan></text>
<text x="488" y="251.9" font-size="7.9" text-anchor="start" fill="#1a1a1a" stroke="#1a1a1a" stroke-width="0.18">0.02</text>
<text x="125.8" y="288" font-size="7.6" text-anchor="start" fill="#1a1a1a" stroke="#1a1a1a" stroke-width="0.18">Myelomonocytic genes</text>
<text x="338.3" y="287.6" font-size="7.55" text-anchor="start" fill="#1a1a1a" stroke="#1a1a1a" stroke-width="0.18">Lymphoid genes</text>
<rect x="79.4" y="292.9" width="401.6" height="257.9" fill="none" stroke="#dedede" stroke-width="1.3"/>
<line x1="249.4" y1="292.5" x2="249.4" y2="551" stroke="#9a9a9a" stroke-width="0.9"/>
<line x1="6.6" y1="331.8" x2="79" y2="331.8" stroke="#e4e4e4" stroke-width="1.5"/>
<line x1="6.6" y1="366.3" x2="79" y2="366.3" stroke="#e4e4e4" stroke-width="1.5"/>
<line x1="6.6" y1="400.7" x2="79" y2="400.7" stroke="#e4e4e4" stroke-width="1.5"/>
<line x1="6.6" y1="435.2" x2="79" y2="435.2" stroke="#e4e4e4" stroke-width="1.5"/>
<line x1="6.6" y1="469.6" x2="79" y2="469.6" stroke="#e4e4e4" stroke-width="1.5"/>
<line x1="6.6" y1="504.1" x2="79" y2="504.1" stroke="#e4e4e4" stroke-width="1.5"/>
<text x="64.1" y="318" font-size="7.7" text-anchor="end" fill="#1a1a1a" stroke="#1a1a1a" stroke-width="0.18">HSPC-MPP</text>
<text x="64.1" y="346.8" font-size="7.7" text-anchor="end" fill="#1a1a1a" stroke="#1a1a1a" stroke-width="0.18">Myeloid</text>
<text x="64.1" y="356.2" font-size="7.7" text-anchor="end" fill="#1a1a1a" stroke="#1a1a1a" stroke-width="0.18">Progenitor</text>
<text x="64.1" y="381.6" font-size="7.45" text-anchor="end" fill="#1a1a1a" stroke="#1a1a1a" stroke-width="0.18">Lymphoid</text>
<text x="64.1" y="390.8" font-size="7.7" text-anchor="end" fill="#1a1a1a" stroke="#1a1a1a" stroke-width="0.18">Progenitor</text>
<text x="64.1" y="416" font-size="7.7" text-anchor="end" fill="#1a1a1a" stroke="#1a1a1a" stroke-width="0.18">B cell</text>
<text x="64.1" y="425.6" font-size="7.7" text-anchor="end" fill="#1a1a1a" stroke="#1a1a1a" stroke-width="0.18">Precursor</text>
<text x="64.1" y="455.4" font-size="7.7" text-anchor="end" fill="#1a1a1a" stroke="#1a1a1a" stroke-width="0.18">Granulocyte</text>
<text x="64.1" y="489.7" font-size="7.7" text-anchor="end" fill="#1a1a1a" stroke="#1a1a1a" stroke-width="0.18">B cell</text>
<text x="64.1" y="514.5" font-size="7.7" text-anchor="end" fill="#1a1a1a" stroke="#1a1a1a" stroke-width="0.18">GATA2 motif</text>
<text x="64.1" y="524.3" font-size="7.7" text-anchor="end" fill="#1a1a1a" stroke="#1a1a1a" stroke-width="0.18">peak</text>
<text x="64.1" y="533.5" font-size="7.7" text-anchor="end" fill="#1a1a1a" stroke="#1a1a1a" stroke-width="0.18">gene</text>
<text x="74.2" y="307.5" font-size="7.7" text-anchor="middle" fill="#1a1a1a" stroke="#1a1a1a" stroke-width="0.18" transform="rotate(-90 74.2 307.5)">WT</text>
<text x="74.2" y="323.3" font-size="7.7" text-anchor="middle" fill="#1a1a1a" stroke="#1a1a1a" stroke-width="0.18" transform="rotate(-90 74.2 323.3)">KO</text>
<text x="74.2" y="342.2" font-size="7.7" text-anchor="middle" fill="#1a1a1a" stroke="#1a1a1a" stroke-width="0.18" transform="rotate(-90 74.2 342.2)">WT</text>
<text x="74.2" y="358.5" font-size="7.7" text-anchor="middle" fill="#1a1a1a" stroke="#1a1a1a" stroke-width="0.18" transform="rotate(-90 74.2 358.5)">KO</text>
<text x="74.2" y="376.9" font-size="7.7" text-anchor="middle" fill="#1a1a1a" stroke="#1a1a1a" stroke-width="0.18" transform="rotate(-90 74.2 376.9)">WT</text>
<text x="74.2" y="393.3" font-size="7.7" text-anchor="middle" fill="#1a1a1a" stroke="#1a1a1a" stroke-width="0.18" transform="rotate(-90 74.2 393.3)">KO</text>
<text x="74.2" y="411.9" font-size="7.7" text-anchor="middle" fill="#1a1a1a" stroke="#1a1a1a" stroke-width="0.18" transform="rotate(-90 74.2 411.9)">WT</text>
<text x="74.2" y="428.2" font-size="7.7" text-anchor="middle" fill="#1a1a1a" stroke="#1a1a1a" stroke-width="0.18" transform="rotate(-90 74.2 428.2)">KO</text>
<text x="74.2" y="444.9" font-size="7.7" text-anchor="middle" fill="#1a1a1a" stroke="#1a1a1a" stroke-width="0.18" transform="rotate(-90 74.2 444.9)">WT</text>
<text x="74.2" y="461.5" font-size="7.7" text-anchor="middle" fill="#1a1a1a" stroke="#1a1a1a" stroke-width="0.18" transform="rotate(-90 74.2 461.5)">KO</text>
<text x="74.2" y="478.9" font-size="7.7" text-anchor="middle" fill="#1a1a1a" stroke="#1a1a1a" stroke-width="0.18" transform="rotate(-90 74.2 478.9)">WT</text>
<text x="74.2" y="495.2" font-size="7.7" text-anchor="middle" fill="#1a1a1a" stroke="#1a1a1a" stroke-width="0.18" transform="rotate(-90 74.2 495.2)">KO</text>
<line x1="80" y1="314.7" x2="134.6" y2="314.7" stroke="#dccfe5" stroke-width="1.5"/>
<line x1="80" y1="331.7" x2="134.6" y2="331.7" stroke="#f0bfca" stroke-width="1.5"/>
<text x="81.2" y="302.4" font-size="5.3" text-anchor="start" fill="#383838">[0 - 22]</text>
<text x="81.2" y="321" font-size="5.3" text-anchor="start" fill="#383838">[0 - 22]</text>
<line x1="80" y1="349.1" x2="134.6" y2="349.1" stroke="#dccfe5" stroke-width="1.5"/>
<line x1="80" y1="366.4" x2="134.6" y2="366.4" stroke="#f0bfca" stroke-width="1.5"/>
<text x="81.2" y="337.6" font-size="5.3" text-anchor="start" fill="#383838">[0 - 22]</text>
<text x="81.2" y="355.4" font-size="5.3" text-anchor="start" fill="#383838">[0 - 22]</text>
<line x1="80" y1="383.9" x2="134.6" y2="383.9" stroke="#dccfe5" stroke-width="1.5"/>
<line x1="80" y1="401.3" x2="134.6" y2="401.3" stroke="#f0bfca" stroke-width="1.5"/>
<text x="81.2" y="372.4" font-size="5.3" text-anchor="start" fill="#383838">[0 - 22]</text>
<text x="81.2" y="390.2" font-size="5.3" text-anchor="start" fill="#383838">[0 - 22]</text>
<line x1="80" y1="418.3" x2="134.6" y2="418.3" stroke="#dccfe5" stroke-width="1.5"/>
<line x1="80" y1="435.5" x2="134.6" y2="435.5" stroke="#f0bfca" stroke-width="1.5"/>
<text x="81.2" y="407.2" font-size="5.3" text-anchor="start" fill="#383838">[0 - 22]</text>
<text x="81.2" y="424.6" font-size="5.3" text-anchor="start" fill="#383838">[0 - 22]</text>
<line x1="80" y1="452.7" x2="134.6" y2="452.7" stroke="#dccfe5" stroke-width="1.5"/>
<line x1="80" y1="470.1" x2="134.6" y2="470.1" stroke="#f0bfca" stroke-width="1.5"/>
<text x="81.2" y="441.6" font-size="5.3" text-anchor="start" fill="#383838">[0 - 22]</text>
<text x="81.2" y="458.9" font-size="5.3" text-anchor="start" fill="#383838">[0 - 22]</text>
<line x1="80" y1="487.3" x2="134.6" y2="487.3" stroke="#dccfe5" stroke-width="1.5"/>
<line x1="80" y1="504.5" x2="134.6" y2="504.5" stroke="#f0bfca" stroke-width="1.5"/>
<text x="81.2" y="476.2" font-size="5.3" text-anchor="start" fill="#383838">[0 - 22]</text>
<text x="81.2" y="493.5" font-size="5.3" text-anchor="start" fill="#383838">[0 - 22]</text>
<line x1="136.2" y1="314.7" x2="192" y2="314.7" stroke="#dccfe5" stroke-width="1.5"/>
<line x1="136.2" y1="331.7" x2="192" y2="331.7" stroke="#f0bfca" stroke-width="1.5"/>
<text x="137" y="302.4" font-size="5.3" text-anchor="start" fill="#383838">[0 - 6.89]</text>
<text x="137" y="321" font-size="5.3" text-anchor="start" fill="#383838">[0 - 6.89]</text>
<line x1="136.2" y1="349.1" x2="192" y2="349.1" stroke="#dccfe5" stroke-width="1.5"/>
<line x1="136.2" y1="366.4" x2="192" y2="366.4" stroke="#f0bfca" stroke-width="1.5"/>
<text x="137" y="337.6" font-size="5.3" text-anchor="start" fill="#383838">[0 - 6.89]</text>
<text x="137" y="355.4" font-size="5.3" text-anchor="start" fill="#383838">[0 - 6.89]</text>
<line x1="136.2" y1="383.9" x2="192" y2="383.9" stroke="#dccfe5" stroke-width="1.5"/>
<line x1="136.2" y1="401.3" x2="192" y2="401.3" stroke="#f0bfca" stroke-width="1.5"/>
<text x="137" y="372.4" font-size="5.3" text-anchor="start" fill="#383838">[0 - 6.89]</text>
<text x="137" y="390.2" font-size="5.3" text-anchor="start" fill="#383838">[0 - 6.89]</text>
<line x1="136.2" y1="418.3" x2="192" y2="418.3" stroke="#dccfe5" stroke-width="1.5"/>
<line x1="136.2" y1="435.5" x2="192" y2="435.5" stroke="#f0bfca" stroke-width="1.5"/>
<text x="137" y="407.2" font-size="5.3" text-anchor="start" fill="#383838">[0 - 6.89]</text>
<text x="137" y="424.6" font-size="5.3" text-anchor="start" fill="#383838">[0 - 6.89]</text>
<line x1="136.2" y1="452.7" x2="192" y2="452.7" stroke="#dccfe5" stroke-width="1.5"/>
<line x1="136.2" y1="470.1" x2="192" y2="470.1" stroke="#f0bfca" stroke-width="1.5"/>
<text x="137" y="441.6" font-size="5.3" text-anchor="start" fill="#383838">[0 - 6.89]</text>
<text x="137" y="458.9" font-size="5.3" text-anchor="start" fill="#383838">[0 - 6.89]</text>
<line x1="136.2" y1="487.3" x2="192" y2="487.3" stroke="#dccfe5" stroke-width="1.5"/>
<line x1="136.2" y1="504.5" x2="192" y2="504.5" stroke="#f0bfca" stroke-width="1.5"/>
<text x="137" y="476.2" font-size="5.3" text-anchor="start" fill="#383838">[0 - 6.89]</text>
<text x="137" y="493.5" font-size="5.3" text-anchor="start" fill="#383838">[0 - 6.89]</text>
<line x1="194.2" y1="314.7" x2="248.8" y2="314.7" stroke="#dccfe5" stroke-width="1.5"/>
<line x1="194.2" y1="331.7" x2="248.8" y2="331.7" stroke="#f0bfca" stroke-width="1.5"/>
<text x="196.9" y="302.4" font-size="5.3" text-anchor="start" fill="#383838">[0 - 10]</text>
<text x="196.9" y="321" font-size="5.3" text-anchor="start" fill="#383838">[0 - 10]</text>
<line x1="194.2" y1="349.1" x2="248.8" y2="349.1" stroke="#dccfe5" stroke-width="1.5"/>
<line x1="194.2" y1="366.4" x2="248.8" y2="366.4" stroke="#f0bfca" stroke-width="1.5"/>
<text x="196.9" y="337.6" font-size="5.3" text-anchor="start" fill="#383838">[0 - 10]</text>
<text x="196.9" y="355.4" font-size="5.3" text-anchor="start" fill="#383838">[0 - 10]</text>
<line x1="194.2" y1="383.9" x2="248.8" y2="383.9" stroke="#dccfe5" stroke-width="1.5"/>
<line x1="194.2" y1="401.3" x2="248.8" y2="401.3" stroke="#f0bfca" stroke-width="1.5"/>
<text x="196.9" y="372.4" font-size="5.3" text-anchor="start" fill="#383838">[0 - 10]</text>
<text x="196.9" y="390.2" font-size="5.3" text-anchor="start" fill="#383838">[0 - 10]</text>
<line x1="194.2" y1="418.3" x2="248.8" y2="418.3" stroke="#dccfe5" stroke-width="1.5"/>
<line x1="194.2" y1="435.5" x2="248.8" y2="435.5" stroke="#f0bfca" stroke-width="1.5"/>
<text x="196.9" y="407.2" font-size="5.3" text-anchor="start" fill="#383838">[0 - 10]</text>
<text x="196.9" y="424.6" font-size="5.3" text-anchor="start" fill="#383838">[0 - 10]</text>
<line x1="194.2" y1="452.7" x2="248.8" y2="452.7" stroke="#dccfe5" stroke-width="1.5"/>
<line x1="194.2" y1="470.1" x2="248.8" y2="470.1" stroke="#f0bfca" stroke-width="1.5"/>
<text x="196.9" y="441.6" font-size="5.3" text-anchor="start" fill="#383838">[0 - 10]</text>
<text x="196.9" y="458.9" font-size="5.3" text-anchor="start" fill="#383838">[0 - 10]</text>
<line x1="194.2" y1="487.3" x2="248.8" y2="487.3" stroke="#dccfe5" stroke-width="1.5"/>
<line x1="194.2" y1="504.5" x2="248.8" y2="504.5" stroke="#f0bfca" stroke-width="1.5"/>
<text x="196.9" y="476.2" font-size="5.3" text-anchor="start" fill="#383838">[0 - 10]</text>
<text x="196.9" y="493.5" font-size="5.3" text-anchor="start" fill="#383838">[0 - 10]</text>
<line x1="250.3" y1="314.7" x2="305.8" y2="314.7" stroke="#dccfe5" stroke-width="1.5"/>
<line x1="250.3" y1="331.7" x2="305.8" y2="331.7" stroke="#f0bfca" stroke-width="1.5"/>
<text x="252" y="302.4" font-size="5.3" text-anchor="start" fill="#383838">[0 - 22]</text>
<text x="252" y="321" font-size="5.3" text-anchor="start" fill="#383838">[0 - 22]</text>
<line x1="250.3" y1="349.1" x2="305.8" y2="349.1" stroke="#dccfe5" stroke-width="1.5"/>
<line x1="250.3" y1="366.4" x2="305.8" y2="366.4" stroke="#f0bfca" stroke-width="1.5"/>
<text x="252" y="337.6" font-size="5.3" text-anchor="start" fill="#383838">[0 - 22]</text>
<text x="252" y="355.4" font-size="5.3" text-anchor="start" fill="#383838">[0 - 22]</text>
<line x1="250.3" y1="383.9" x2="305.8" y2="383.9" stroke="#dccfe5" stroke-width="1.5"/>
<line x1="250.3" y1="401.3" x2="305.8" y2="401.3" stroke="#f0bfca" stroke-width="1.5"/>
<text x="252" y="372.4" font-size="5.3" text-anchor="start" fill="#383838">[0 - 22]</text>
<text x="252" y="390.2" font-size="5.3" text-anchor="start" fill="#383838">[0 - 22]</text>
<line x1="250.3" y1="418.3" x2="305.8" y2="418.3" stroke="#dccfe5" stroke-width="1.5"/>
<line x1="250.3" y1="435.5" x2="305.8" y2="435.5" stroke="#f0bfca" stroke-width="1.5"/>
<text x="252" y="407.2" font-size="5.3" text-anchor="start" fill="#383838">[0 - 22]</text>
<text x="252" y="424.6" font-size="5.3" text-anchor="start" fill="#383838">[0 - 22]</text>
<line x1="250.3" y1="452.7" x2="305.8" y2="452.7" stroke="#dccfe5" stroke-width="1.5"/>
<line x1="250.3" y1="470.1" x2="305.8" y2="470.1" stroke="#f0bfca" stroke-width="1.5"/>
<text x="252" y="441.6" font-size="5.3" text-anchor="start" fill="#383838">[0 - 22]</text>
<text x="252" y="458.9" font-size="5.3" text-anchor="start" fill="#383838">[0 - 22]</text>
<line x1="250.3" y1="487.3" x2="305.8" y2="487.3" stroke="#dccfe5" stroke-width="1.5"/>
<line x1="250.3" y1="504.5" x2="305.8" y2="504.5" stroke="#f0bfca" stroke-width="1.5"/>
<text x="252" y="476.2" font-size="5.3" text-anchor="start" fill="#383838">[0 - 22]</text>
<text x="252" y="493.5" font-size="5.3" text-anchor="start" fill="#383838">[0 - 22]</text>
<line x1="309" y1="314.7" x2="364.6" y2="314.7" stroke="#dccfe5" stroke-width="1.5"/>
<line x1="309" y1="331.7" x2="364.6" y2="331.7" stroke="#f0bfca" stroke-width="1.5"/>
<text x="312" y="302.4" font-size="5.3" text-anchor="start" fill="#383838">[0 - 8.91]</text>
<text x="312" y="321" font-size="5.3" text-anchor="start" fill="#383838">[0 - 8.91]</text>
<line x1="309" y1="349.1" x2="364.6" y2="349.1" stroke="#dccfe5" stroke-width="1.5"/>
<line x1="309" y1="366.4" x2="364.6" y2="366.4" stroke="#f0bfca" stroke-width="1.5"/>
<text x="312" y="337.6" font-size="5.3" text-anchor="start" fill="#383838">[0 - 8.91]</text>
<text x="312" y="355.4" font-size="5.3" text-anchor="start" fill="#383838">[0 - 8.91]</text>
<line x1="309" y1="383.9" x2="364.6" y2="383.9" stroke="#dccfe5" stroke-width="1.5"/>
<line x1="309" y1="401.3" x2="364.6" y2="401.3" stroke="#f0bfca" stroke-width="1.5"/>
<text x="312" y="372.4" font-size="5.3" text-anchor="start" fill="#383838">[0 - 8.91]</text>
<text x="312" y="390.2" font-size="5.3" text-anchor="start" fill="#383838">[0 - 8.91]</text>
<line x1="309" y1="418.3" x2="364.6" y2="418.3" stroke="#dccfe5" stroke-width="1.5"/>
<line x1="309" y1="435.5" x2="364.6" y2="435.5" stroke="#f0bfca" stroke-width="1.5"/>
<text x="312" y="407.2" font-size="5.3" text-anchor="start" fill="#383838">[0 - 8.91]</text>
<text x="312" y="424.6" font-size="5.3" text-anchor="start" fill="#383838">[0 - 8.91]</text>
<line x1="309" y1="452.7" x2="364.6" y2="452.7" stroke="#dccfe5" stroke-width="1.5"/>
<line x1="309" y1="470.1" x2="364.6" y2="470.1" stroke="#f0bfca" stroke-width="1.5"/>
<text x="312" y="441.6" font-size="5.3" text-anchor="start" fill="#383838">[0 - 8.91]</text>
<text x="312" y="458.9" font-size="5.3" text-anchor="start" fill="#383838">[0 - 8.91]</text>
<line x1="309" y1="487.3" x2="364.6" y2="487.3" stroke="#dccfe5" stroke-width="1.5"/>
<line x1="309" y1="504.5" x2="364.6" y2="504.5" stroke="#f0bfca" stroke-width="1.5"/>
<text x="312" y="476.2" font-size="5.3" text-anchor="start" fill="#383838">[0 - 8.91]</text>
<text x="312" y="493.5" font-size="5.3" text-anchor="start" fill="#383838">[0 - 8.91]</text>
<line x1="367" y1="314.7" x2="423" y2="314.7" stroke="#dccfe5" stroke-width="1.5"/>
<line x1="367" y1="331.7" x2="423" y2="331.7" stroke="#f0bfca" stroke-width="1.5"/>
<text x="369.1" y="302.4" font-size="5.3" text-anchor="start" fill="#383838">[0 - 17]</text>
<text x="369.1" y="321" font-size="5.3" text-anchor="start" fill="#383838">[0 - 17]</text>
<line x1="367" y1="349.1" x2="423" y2="349.1" stroke="#dccfe5" stroke-width="1.5"/>
<line x1="367" y1="366.4" x2="423" y2="366.4" stroke="#f0bfca" stroke-width="1.5"/>
<text x="369.1" y="337.6" font-size="5.3" text-anchor="start" fill="#383838">[0 - 17]</text>
<text x="369.1" y="355.4" font-size="5.3" text-anchor="start" fill="#383838">[0 - 17]</text>
<line x1="367" y1="383.9" x2="423" y2="383.9" stroke="#dccfe5" stroke-width="1.5"/>
<line x1="367" y1="401.3" x2="423" y2="401.3" stroke="#f0bfca" stroke-width="1.5"/>
<text x="369.1" y="372.4" font-size="5.3" text-anchor="start" fill="#383838">[0 - 17]</text>
<text x="369.1" y="390.2" font-size="5.3" text-anchor="start" fill="#383838">[0 - 17]</text>
<line x1="367" y1="418.3" x2="423" y2="418.3" stroke="#dccfe5" stroke-width="1.5"/>
<line x1="367" y1="435.5" x2="423" y2="435.5" stroke="#f0bfca" stroke-width="1.5"/>
<text x="369.1" y="407.2" font-size="5.3" text-anchor="start" fill="#383838">[0 - 17]</text>
<text x="369.1" y="424.6" font-size="5.3" text-anchor="start" fill="#383838">[0 - 17]</text>
<line x1="367" y1="452.7" x2="423" y2="452.7" stroke="#dccfe5" stroke-width="1.5"/>
<line x1="367" y1="470.1" x2="423" y2="470.1" stroke="#f0bfca" stroke-width="1.5"/>
<text x="369.1" y="441.6" font-size="5.3" text-anchor="start" fill="#383838">[0 - 17]</text>
<text x="369.1" y="458.9" font-size="5.3" text-anchor="start" fill="#383838">[0 - 17]</text>
<line x1="367" y1="487.3" x2="423" y2="487.3" stroke="#dccfe5" stroke-width="1.5"/>
<line x1="367" y1="504.5" x2="423" y2="504.5" stroke="#f0bfca" stroke-width="1.5"/>
<text x="369.1" y="476.2" font-size="5.3" text-anchor="start" fill="#383838">[0 - 17]</text>
<text x="369.1" y="493.5" font-size="5.3" text-anchor="start" fill="#383838">[0 - 17]</text>
<line x1="424.7" y1="314.7" x2="480.6" y2="314.7" stroke="#dccfe5" stroke-width="1.5"/>
<line x1="424.7" y1="331.7" x2="480.6" y2="331.7" stroke="#f0bfca" stroke-width="1.5"/>
<text x="426.8" y="302.4" font-size="5.3" text-anchor="start" fill="#383838">[0 - 17]</text>
<text x="426.8" y="321" font-size="5.3" text-anchor="start" fill="#383838">[0 - 17]</text>
<line x1="424.7" y1="349.1" x2="480.6" y2="349.1" stroke="#dccfe5" stroke-width="1.5"/>
<line x1="424.7" y1="366.4" x2="480.6" y2="366.4" stroke="#f0bfca" stroke-width="1.5"/>
<text x="426.8" y="337.6" font-size="5.3" text-anchor="start" fill="#383838">[0 - 17]</text>
<text x="426.8" y="355.4" font-size="5.3" text-anchor="start" fill="#383838">[0 - 17]</text>
<line x1="424.7" y1="383.9" x2="480.6" y2="383.9" stroke="#dccfe5" stroke-width="1.5"/>
<line x1="424.7" y1="401.3" x2="480.6" y2="401.3" stroke="#f0bfca" stroke-width="1.5"/>
<text x="426.8" y="372.4" font-size="5.3" text-anchor="start" fill="#383838">[0 - 17]</text>
<text x="426.8" y="390.2" font-size="5.3" text-anchor="start" fill="#383838">[0 - 17]</text>
<line x1="424.7" y1="418.3" x2="480.6" y2="418.3" stroke="#dccfe5" stroke-width="1.5"/>
<line x1="424.7" y1="435.5" x2="480.6" y2="435.5" stroke="#f0bfca" stroke-width="1.5"/>
<text x="426.8" y="407.2" font-size="5.3" text-anchor="start" fill="#383838">[0 - 17]</text>
<text x="426.8" y="424.6" font-size="5.3" text-anchor="start" fill="#383838">[0 - 17]</text>
<line x1="424.7" y1="452.7" x2="480.6" y2="452.7" stroke="#dccfe5" stroke-width="1.5"/>
<line x1="424.7" y1="470.1" x2="480.6" y2="470.1" stroke="#f0bfca" stroke-width="1.5"/>
<text x="426.8" y="441.6" font-size="5.3" text-anchor="start" fill="#383838">[0 - 17]</text>
<text x="426.8" y="458.9" font-size="5.3" text-anchor="start" fill="#383838">[0 - 17]</text>
<line x1="424.7" y1="487.3" x2="480.6" y2="487.3" stroke="#dccfe5" stroke-width="1.5"/>
<line x1="424.7" y1="504.5" x2="480.6" y2="504.5" stroke="#f0bfca" stroke-width="1.5"/>
<text x="426.8" y="476.2" font-size="5.3" text-anchor="start" fill="#383838">[0 - 17]</text>
<text x="426.8" y="493.5" font-size="5.3" text-anchor="start" fill="#383838">[0 - 17]</text>
<path d="M84.2,315.3 L84.2,314.7 L93.2,314.7 L93.2,315.3 Z" fill="#9c83ad"/>
<path d="M102.9,315.3 L102.9,315.3 L104,313.67 L108,311.49 L111.3,309.43 L115.8,309.43 L117.7,311.49 L121,315.08 L121,315.3 Z" fill="#532362" stroke="#42154f" stroke-width="0.3" stroke-linejoin="round"/>
<path d="M90,332.3 L90,332.3 L95.8,330.02 L100.3,326.7 L102.9,323.4 L104.8,324.73 L108,324 L111.3,318.2 L115.8,319.5 L117.7,323.4 L119.6,326.07 L121,332.09 L121,332.3 Z" fill="#a8002a" stroke="#93001f" stroke-width="0.3" stroke-linejoin="round"/>
<path d="M84.2,349.7 L84.2,349.16 L92,348.83 L98,348.18 L100.5,347.52 L101.5,346.22 L102.2,345.68 L104,345.13 L108,342.85 L110,339.5 L113.2,338.9 L116.4,339.5 L119,343.61 L121,348.5 L121,349.7 Z" fill="#532362" stroke="#42154f" stroke-width="0.3" stroke-linejoin="round"/>
<path d="M126.5,349.7 L126.5,349.7 L127.4,347.85 L131,347.31 L134.6,347.85 L134.6,349.7 Z" fill="#532362" stroke="#42154f" stroke-width="0.3" stroke-linejoin="round"/>
<path d="M89.3,367 L89.3,367 L104.8,364.27 L111.3,361.64 L114.5,360.91 L117.7,363.64 L121.3,366.37 L121.3,367 Z" fill="#a8002a" stroke="#93001f" stroke-width="0.3" stroke-linejoin="round"/>
<path d="M128,367 L128,365.63 L134.5,365.63 L134.5,367 Z" fill="#a8002a" stroke="#93001f" stroke-width="0.3" stroke-linejoin="round"/>
<path d="M95.8,384.5 L95.8,382.93 L102.2,381.46 L104.8,378.65 L106.7,379.32 L109.3,377.86 L112.5,375.72 L116.4,376.06 L119,378.65 L120.5,384.39 L120.5,384.5 Z" fill="#532362" stroke="#42154f" stroke-width="0.3" stroke-linejoin="round"/>
<path d="M90,401.9 L90,399.56 L93.2,398.12 L103.5,398.12 L104.5,400.01 L108,398.56 L110,400.01 L118.4,400.01 L118.4,401.9 Z" fill="#a8002a" stroke="#93001f" stroke-width="0.3" stroke-linejoin="round"/>
<path d="M122.9,401.9 L122.9,400.56 L128.7,398.12 L132.5,398.12 L132.5,401.9 Z" fill="#a8002a" stroke="#93001f" stroke-width="0.3" stroke-linejoin="round"/>
<path d="M97,418.9 L97,418.68 L102.2,416.18 L108,415.42 L110,411.94 L113.2,409.2 L116.4,409.9 L118.4,412.7 L120.5,418.25 L120.5,418.9 Z" fill="#532362" stroke="#42154f" stroke-width="0.3" stroke-linejoin="round"/>
<path d="M127.4,418.9 L127.4,416.83 L135.1,416.83 L135.1,418.9 Z" fill="#532362" stroke="#42154f" stroke-width="0.3" stroke-linejoin="round"/>
<path d="M84.2,436.1 L84.2,435.58 L95.8,432.74 L101.6,432.01 L102.9,428.65 L106,429.27 L109.3,426.6 L110.6,425.4 L115.8,425.4 L117,427.91 L119,432.01 L120.5,435.37 L120.5,436.1 Z" fill="#a8002a" stroke="#93001f" stroke-width="0.3" stroke-linejoin="round"/>
<path d="M126.7,436.1 L126.7,434.74 L135.1,434.74 L135.1,436.1 Z" fill="#a8002a" stroke="#93001f" stroke-width="0.3" stroke-linejoin="round"/>
<path d="M84.2,453.3 L84.2,452.75 L95.8,451.1 L101.6,450 L102.9,448.24 L108.7,447.58 L110.6,444 L112.5,443 L116.4,443.4 L118.4,446.81 L120.5,452.53 L120.5,453.3 Z" fill="#532362" stroke="#42154f" stroke-width="0.3" stroke-linejoin="round"/>
<path d="M127,453.3 L127,452.2 L135.1,451.98 L135.1,453.3 Z" fill="#532362" stroke="#42154f" stroke-width="0.3" stroke-linejoin="round"/>
<path d="M92,470.7 L92,470.04 L97,468.94 L101.6,467.07 L103.5,466.08 L107.4,465.64 L110.6,462.12 L113.8,461.5 L116.4,462.12 L119,466.41 L120.5,470.37 L120.5,470.7 Z" fill="#a8002a" stroke="#93001f" stroke-width="0.3" stroke-linejoin="round"/>
<path d="M97,487.9 L97,487.46 L102.2,485.18 L104.8,483.77 L108,484.2 L110,479.53 L112.3,476.5 L116.4,477 L118.4,481.7 L120.5,487.25 L120.5,487.9 Z" fill="#532362" stroke="#42154f" stroke-width="0.3" stroke-linejoin="round"/>
<path d="M126,487.9 L126,487.25 L135,487.03 L135,487.9 Z" fill="#532362" stroke="#42154f" stroke-width="0.3" stroke-linejoin="round"/>
<path d="M90.6,505.1 L90.6,504.68 L95.8,503.08 L101.6,502.44 L102.9,501.27 L106,501.81 L109.3,499.68 L111.3,497.66 L116.4,497.34 L118.4,499.04 L120.5,501.81 L121.8,504.46 L121.8,505.1 Z" fill="#a8002a" stroke="#93001f" stroke-width="0.3" stroke-linejoin="round"/>
<path d="M126.7,505.1 L126.7,504.46 L135,504.46 L135,505.1 Z" fill="#a8002a" stroke="#93001f" stroke-width="0.3" stroke-linejoin="round"/>
<path d="M153,315.3 L153,315.3 L154,313.89 L168,313.89 L168.8,315.3 L168.8,315.3 Z" fill="#532362" stroke="#42154f" stroke-width="0.3" stroke-linejoin="round"/>
<path d="M153,332.3 L153,332.3 L154.5,328.46 L178,328.46 L179.5,332.3 L179.5,332.3 Z" fill="#a8002a" stroke="#93001f" stroke-width="0.3" stroke-linejoin="round"/>
<path d="M149,349.7 L149,349.92 L150.5,338.4 L151.8,336.4 L154.4,335.4 L164.7,335.4 L167.3,337.2 L168.5,341.54 L168.8,345.68 L173.7,346 L176.3,347.85 L177.8,349.92 L177.8,349.7 Z" fill="#532362" stroke="#42154f" stroke-width="0.3" stroke-linejoin="round"/>
<path d="M147.9,367 L147.9,367 L151.8,365 L156.3,362.9 L162.7,362.59 L167.3,363.64 L173.7,365.63 L177.6,367 L177.6,367 Z" fill="#a8002a" stroke="#93001f" stroke-width="0.3" stroke-linejoin="round"/>
<path d="M153,418.9 L153,419.01 L153.5,417.16 L168,417.16 L168.3,419.01 L168.3,418.9 Z" fill="#532362" stroke="#42154f" stroke-width="0.3" stroke-linejoin="round"/>
<path d="M161.5,436.1 L161.5,436.1 L161.8,432.74 L187,432.74 L187.3,436.1 L187.3,436.1 Z" fill="#a8002a" stroke="#93001f" stroke-width="0.3" stroke-linejoin="round"/>
<path d="M149,453.3 L149,452.97 L150.5,448.24 L153,446.81 L155,442.7 L158.2,441.2 L162.7,440.8 L165.3,440.8 L167.9,444 L170.5,446.15 L176.3,446.81 L177.6,450.33 L178.9,452.53 L184,452.75 L184,453.3 Z" fill="#532362" stroke="#42154f" stroke-width="0.3" stroke-linejoin="round"/>
<path d="M149.8,470.7 L149.8,470.26 L153,467.07 L156.3,466.63 L162.1,466.41 L162.7,465.64 L166.6,465.97 L167.9,468.5 L170.5,469.93 L170.5,470.7 Z" fill="#a8002a" stroke="#93001f" stroke-width="0.3" stroke-linejoin="round"/>
<path d="M170.5,470.7 L170.5,470.1 L179.5,470.1 L179.5,470.7 Z" fill="#d9788f"/>
<path d="M157,487.9 L157,486.9 L178.2,486.9 L178.2,487.9 Z" fill="#9c83ad"/>
<path d="M217.8,332.3 L217.8,332.3 L218,330.74 L238.3,330.74 L238.5,332.3 L238.5,332.3 Z" fill="#a8002a" stroke="#93001f" stroke-width="0.3" stroke-linejoin="round"/>
<path d="M201.7,349.7 L201.7,349.7 L203.6,345.02 L208.8,344.05 L214.6,342.85 L217.8,340.8 L221,336.5 L224.3,337 L225.8,335.6 L228.1,337.6 L230.7,340.8 L234,345.02 L239.1,345.35 L241,349.16 L241,349.7 Z" fill="#532362" stroke="#42154f" stroke-width="0.3" stroke-linejoin="round"/>
<path d="M202.3,367 L202.3,366.37 L208.8,365 L214.6,363.64 L217.8,361.64 L221,360.59 L226.2,361.12 L229.4,362.9 L233.3,365.63 L235.9,367 L235.9,367 Z" fill="#a8002a" stroke="#93001f" stroke-width="0.3" stroke-linejoin="round"/>
<path d="M210,418.9 L210,418.1 L217.8,418.1 L217.8,418.9 Z" fill="#9c83ad"/>
<path d="M217.5,418.9 L217.5,418.9 L218.5,417.92 L221,415.42 L230.7,415.42 L233.3,418.25 L233.3,418.9 Z" fill="#532362" stroke="#42154f" stroke-width="0.3" stroke-linejoin="round"/>
<path d="M211.4,436.1 L211.4,436.1 L211.6,433.37 L228.6,433.37 L228.8,436.1 L228.8,436.1 Z" fill="#a8002a" stroke="#93001f" stroke-width="0.3" stroke-linejoin="round"/>
<path d="M212.6,470.7 L212.6,469.9 L225.8,469.9 L225.8,470.7 Z" fill="#a8002a"/>
<path d="M201.7,505.1 L201.7,504.99 L205,503.61 L210,503.4 L215,502.87 L217.8,502.12 L224.3,502.12 L227,502.98 L230.7,504.99 L230.7,505.1 Z" fill="#a8002a" stroke="#93001f" stroke-width="0.3" stroke-linejoin="round"/>
<path d="M269.6,315.3 L269.6,314.5 L277.6,314.5 L277.6,315.3 Z" fill="#532362"/>
<path d="M280,315.3 L280,314.5 L285.8,314.5 L285.8,315.3 Z" fill="#532362"/>
<path d="M289,315.3 L289,314.5 L295.5,314.5 L295.5,315.3 Z" fill="#532362"/>
<path d="M273.5,332.3 L273.5,331.5 L283.2,331.5 L283.2,332.3 Z" fill="#d9788f"/>
<path d="M279.3,349.7 L279.3,349.92 L280.6,346.44 L282.5,344.05 L284.5,344.05 L286.4,346.44 L288.4,348.5 L291,349.92 L291,349.7 Z" fill="#532362" stroke="#42154f" stroke-width="0.3" stroke-linejoin="round"/>
<path d="M271.6,367 L271.6,367 L272,365.63 L277.6,365.63 L278,367 L278,367 Z" fill="#a8002a" stroke="#93001f" stroke-width="0.3" stroke-linejoin="round"/>
<path d="M280,367 L280,367 L280.6,363.64 L282.5,361.64 L285.8,361.12 L287.5,364.27 L287.7,367 L287.7,367 Z" fill="#a8002a" stroke="#93001f" stroke-width="0.3" stroke-linejoin="round"/>
<path d="M271.6,401.9 L271.6,401.9 L271.8,398.12 L279.8,398.12 L280,401.9 L280,401.9 Z" fill="#a8002a" stroke="#93001f" stroke-width="0.3" stroke-linejoin="round"/>
<path d="M268.5,418.9 L268.5,418.9 L271.4,418.46 L272,413.25 L273,409.5 L274.5,408.6 L276.5,408.6 L278,408.3 L278.6,411.07 L279.2,414.55 L281.3,414.99 L283.8,415.42 L285.8,417.59 L287,418.9 L287,418.9 Z" fill="#532362" stroke="#42154f" stroke-width="0.3" stroke-linejoin="round"/>
<path d="M285.8,418.9 L285.8,418.3 L294.8,418.3 L294.8,418.9 Z" fill="#9c83ad"/>
<path d="M300.6,418.9 L300.6,418.3 L305.8,418.3 L305.8,418.9 Z" fill="#9c83ad"/>
<path d="M271.6,436.1 L271.6,436.1 L272.2,428.01 L272.9,424 L274.2,422.8 L276.7,422.1 L278,421.5 L278.8,426 L279.3,432.22 L279.8,436.1 L279.8,436.1 Z" fill="#a8002a" stroke="#93001f" stroke-width="0.3" stroke-linejoin="round"/>
<path d="M269,453.3 L269,453.19 L272.2,450.33 L274.2,447.91 L276.7,447.91 L279.3,450 L280.6,447.58 L283.2,447.14 L285.1,449.67 L289,452.53 L290,453.19 L290,453.3 Z" fill="#532362" stroke="#42154f" stroke-width="0.3" stroke-linejoin="round"/>
<path d="M269.6,470.7 L269.6,470.26 L272.9,467.07 L274.8,466.41 L277.2,467.07 L280,467.07 L282.5,466.41 L285.1,467.84 L289,469.16 L293.5,470.59 L293.5,470.7 Z" fill="#a8002a" stroke="#93001f" stroke-width="0.3" stroke-linejoin="round"/>
<path d="M269,487.9 L269,487.68 L272.2,486.59 L273.5,480.29 L274.8,479.53 L278,479.53 L279.3,485.83 L283.8,487.25 L285,487.9 L285,487.9 Z" fill="#532362" stroke="#42154f" stroke-width="0.3" stroke-linejoin="round"/>
<path d="M269.6,505.1 L269.6,504.68 L272.2,501.81 L273.5,500.74 L277.4,501.06 L279.3,502.44 L282.5,503.08 L287.7,504.04 L289,505.1 L289,505.1 Z" fill="#a8002a" stroke="#93001f" stroke-width="0.3" stroke-linejoin="round"/>
<path d="M332.2,315.3 L332.2,315.74 L332.4,314.32 L352,314.32 L352.2,315.74 L352.2,315.3 Z" fill="#532362" stroke="#42154f" stroke-width="0.3" stroke-linejoin="round"/>
<path d="M349,332.3 L349,332.71 L349.2,331.16 L364.6,331.16 L364.6,332.3 Z" fill="#a8002a" stroke="#93001f" stroke-width="0.3" stroke-linejoin="round"/>
<path d="M309,349.7 L309,349.16 L312.2,347.09 L313.5,347.74 L318.6,348.5 L326.4,348.83 L327,349.92 L327,349.7 Z" fill="#532362" stroke="#42154f" stroke-width="0.3" stroke-linejoin="round"/>
<path d="M332.8,349.7 L332.8,348.5 L338,347.09 L341.2,344.26 L344.4,343.61 L348.3,342.63 L350.9,344.26 L356,344.05 L358.6,343.61 L360.5,346.44 L364.6,346.87 L364.6,349.7 Z" fill="#532362" stroke="#42154f" stroke-width="0.3" stroke-linejoin="round"/>
<path d="M309,367 L309,366.2 L320,366.2 L320,367 Z" fill="#d9788f"/>
<path d="M333,367 L333,366.2 L342,366.2 L342,367 Z" fill="#d9788f"/>
<path d="M342.5,367 L342.5,367 L343.1,364.27 L344.4,363.64 L348.5,364.58 L352.2,363.64 L357.3,363.64 L360,364.58 L364.6,365.32 L364.6,367 Z" fill="#a8002a" stroke="#93001f" stroke-width="0.3" stroke-linejoin="round"/>
<path d="M310.2,384.5 L310.2,382.25 L318.6,382.25 L318.8,378.88 L327,378.88 L327.2,382.25 L338.6,382.25 L338.6,384.5 Z" fill="#532362" stroke="#42154f" stroke-width="0.3" stroke-linejoin="round"/>
<path d="M343.1,384.5 L343.1,382.25 L357.3,382.25 L357.3,384.5 Z" fill="#532362" stroke="#42154f" stroke-width="0.3" stroke-linejoin="round"/>
<path d="M337.3,401.9 L337.3,397.45 L343.1,397.45 L343.3,392.5 L352.8,392.5 L353,397.45 L360.2,397.45 L360.2,401.9 Z" fill="#a8002a" stroke="#93001f" stroke-width="0.3" stroke-linejoin="round"/>
<path d="M319.3,418.9 L319.3,417.81 L341.2,417.81 L342,416.29 L343.5,417.81 L349,417.81 L350,416.29 L351.5,414.77 L355.4,414.77 L356,416.83 L363.8,416.83 L363.8,418.9 Z" fill="#532362" stroke="#42154f" stroke-width="0.3" stroke-linejoin="round"/>
<path d="M312.2,436.1 L312.2,433.69 L325.7,433.69 L325.7,436.1 Z" fill="#a8002a" stroke="#93001f" stroke-width="0.3" stroke-linejoin="round"/>
<path d="M309.5,453.3 L309.5,452.7 L314,452.7 L314,453.3 Z" fill="#9c83ad"/>
<path d="M334,453.3 L334,453.19 L338,451.76 L341.8,451.1 L344.4,449.67 L345.7,448.68 L350.9,448.24 L356,448.68 L358,450.77 L361.2,452.2 L363.8,451.1 L364.6,451.1 L364.6,453.3 Z" fill="#532362" stroke="#42154f" stroke-width="0.3" stroke-linejoin="round"/>
<path d="M309.5,470.7 L309.5,469.7 L317.3,469.7 L317.3,470.7 Z" fill="#a8002a"/>
<path d="M336.7,470.7 L336.7,470.15 L341.8,468.5 L345.7,467.4 L354.7,467.4 L357.3,468.5 L359.3,470.37 L359.3,470.7 Z" fill="#a8002a" stroke="#93001f" stroke-width="0.3" stroke-linejoin="round"/>
<path d="M314,487.9 L314,486.9 L331.5,486.9 L331.5,487.9 Z" fill="#9c83ad"/>
<path d="M338.6,487.9 L338.6,487.46 L343.1,484.2 L344.4,483.33 L352.2,483.33 L352.8,485.18 L358,485.83 L359.3,487.25 L359.3,487.9 Z" fill="#532362" stroke="#42154f" stroke-width="0.3" stroke-linejoin="round"/>
<path d="M310,505.1 L310,504.5 L323,504.5 L323,505.1 Z" fill="#d9788f"/>
<path d="M333,505.1 L333,504.5 L341,504.5 L341,505.1 Z" fill="#d9788f"/>
<path d="M343,505.1 L343,504.5 L355,504.5 L355,505.1 Z" fill="#d9788f"/>
<path d="M356,505.1 L356,505.1 L356.5,503.51 L359.5,503.51 L360,505.1 L360,505.1 Z" fill="#a8002a" stroke="#93001f" stroke-width="0.3" stroke-linejoin="round"/>
<path d="M392.7,315.3 L392.7,315.3 L394.4,310.84 L395.7,308.34 L398.8,308.34 L400.1,310.84 L401.8,315.08 L401.8,315.3 Z" fill="#532362" stroke="#42154f" stroke-width="0.3" stroke-linejoin="round"/>
<path d="M391.5,332.3 L391.5,332.51 L391.8,330.74 L395,330.54 L396,330.23 L397,330.54 L400.3,330.74 L400.5,332.51 L400.5,332.3 Z" fill="#a8002a" stroke="#93001f" stroke-width="0.3" stroke-linejoin="round"/>
<path d="M411.5,332.3 L411.5,332.51 L411.8,331.68 L416,331.68 L416.5,330.74 L417,331.68 L421.8,331.68 L421.8,332.3 Z" fill="#a8002a" stroke="#93001f" stroke-width="0.3" stroke-linejoin="round"/>
<path d="M384.4,349.7 L384.4,349.92 L385.5,348.61 L388,348.18 L391.5,348.61 L392,349.92 L392,349.7 Z" fill="#532362" stroke="#42154f" stroke-width="0.3" stroke-linejoin="round"/>
<path d="M394,349.7 L394,349.92 L395,348.07 L397.5,347.63 L400.3,348.18 L401.1,349.92 L401.1,349.7 Z" fill="#532362" stroke="#42154f" stroke-width="0.3" stroke-linejoin="round"/>
<path d="M384.4,367 L384.4,367 L384.6,365.63 L399.6,365.63 L399.8,367 L399.8,367 Z" fill="#a8002a" stroke="#93001f" stroke-width="0.3" stroke-linejoin="round"/>
<path d="M395.3,384.5 L395.3,384.84 L395.5,382.25 L401.6,382.25 L401.8,384.84 L401.8,384.5 Z" fill="#532362" stroke="#42154f" stroke-width="0.3" stroke-linejoin="round"/>
<path d="M390.2,401.9 L390.2,401.9 L391.5,395.23 L394.7,394.22 L395.7,391.8 L397,394.22 L398.8,395.23 L399.8,401.68 L399.8,401.9 Z" fill="#a8002a" stroke="#93001f" stroke-width="0.3" stroke-linejoin="round"/>
<path d="M383,418.9 L383,418.68 L385,414.01 L387.6,409.2 L388.9,408.3 L390.8,411.94 L392.1,414.01 L394.7,411.29 L398.5,412.7 L400.5,416.18 L401.8,418.9 L401.8,418.9 Z" fill="#532362" stroke="#42154f" stroke-width="0.3" stroke-linejoin="round"/>
<path d="M383,436.1 L383,435.89 L384.4,427.91 L386.3,427.3 L388.9,427.7 L390.8,430.01 L392.7,426.6 L394,424.7 L395.3,422.1 L397,426.6 L397.9,429.27 L399.8,429.27 L401.8,434 L402.5,434.42 L412.1,434.42 L412.2,436.1 L412.2,436.1 Z" fill="#a8002a" stroke="#93001f" stroke-width="0.3" stroke-linejoin="round"/>
<path d="M385,453.3 L385,452.3 L399.2,452.3 L399.2,453.3 Z" fill="#532362"/>
<path d="M385,470.7 L385,469.9 L399.2,469.9 L399.2,470.7 Z" fill="#d9788f"/>
<path d="M383.7,487.9 L383.7,487.68 L385.6,483.01 L388.9,480.94 L391.5,479.53 L393.4,478.2 L395,476.3 L396.6,477.6 L398.8,481.7 L399.8,485.18 L400.9,487.57 L400.9,487.9 Z" fill="#532362" stroke="#42154f" stroke-width="0.3" stroke-linejoin="round"/>
<path d="M380.5,505.1 L380.5,504.99 L383.7,503.08 L385.6,500.43 L387.6,499.47 L390.2,500.43 L392.7,501.81 L396,501.81 L399.2,503.08 L400.5,504.99 L400.5,505.1 Z" fill="#a8002a" stroke="#93001f" stroke-width="0.3" stroke-linejoin="round"/>
<path d="M432.7,315.3 L432.7,315.19 L433.5,313.89 L436,313.89 L436.5,314.65 L450,314.65 L450,315.3 Z" fill="#532362" stroke="#42154f" stroke-width="0.3" stroke-linejoin="round"/>
<path d="M449.5,332.3 L449.5,332.3 L449.7,331.37 L461.5,331.37 L461.7,332.3 L461.7,332.3 Z" fill="#a8002a" stroke="#93001f" stroke-width="0.3" stroke-linejoin="round"/>
<path d="M440.4,349.7 L440.4,349 L465.6,349 L465.6,349.7 Z" fill="#9c83ad"/>
<path d="M449.5,367 L449.5,366.3 L465,366.3 L465,367 Z" fill="#d9788f"/>
<path d="M425,418.9 L425,418.25 L430.7,416.51 L437.2,416.83 L438.5,414.01 L441,409.9 L446.2,409.6 L448.2,406.6 L449.5,407 L450.4,411.29 L454,410.53 L456.3,409.9 L457.2,405 L459.1,406 L461.1,408 L463,411.29 L465.6,414.01 L466.9,416.18 L467.5,418.9 L467.5,418.9 Z" fill="#532362" stroke="#42154f" stroke-width="0.3" stroke-linejoin="round"/>
<path d="M467.5,418.9 L467.5,418.4 L475,418.4 L475,418.9 Z" fill="#9c83ad"/>
<path d="M437.2,436.1 L437.2,436.1 L437.5,434.74 L441.7,433.37 L450.1,433.37 L451.5,432.63 L452.5,430.12 L454,428.01 L455.5,426.5 L457,426 L462,426 L463.5,426.8 L465,428.54 L466.3,431.17 L467.3,433.79 L468,435.89 L468,436.1 Z" fill="#a8002a" stroke="#93001f" stroke-width="0.3" stroke-linejoin="round"/>
<path d="M470.7,436.1 L470.7,436.1 L470.8,434.74 L479.8,434.74 L479.8,436.1 Z" fill="#a8002a" stroke="#93001f" stroke-width="0.3" stroke-linejoin="round"/>
<path d="M450.7,453.3 L450.7,453.19 L454,452.2 L459.1,451.54 L464.3,451.76 L467.5,452.97 L467.5,453.3 Z" fill="#532362" stroke="#42154f" stroke-width="0.3" stroke-linejoin="round"/>
<path d="M436,470.7 L436,469.9 L443.6,469.9 L443.6,470.7 Z" fill="#d9788f"/>
<path d="M457,470.7 L457,469.9 L466.6,469.9 L466.6,470.7 Z" fill="#d9788f"/>
<path d="M428.2,487.9 L428.2,487.68 L435.9,485.83 L439.1,483.01 L441,482.35 L448.2,483.33 L450.7,485.83 L452,483.77 L454,480.94 L457.2,479.53 L461.1,479.53 L463,482.35 L465.6,485.18 L468.2,487.25 L473,487.68 L473,487.9 Z" fill="#532362" stroke="#42154f" stroke-width="0.3" stroke-linejoin="round"/>
<path d="M432.7,505.1 L432.7,504.68 L439.1,502.76 L441,502.44 L448.8,503.4 L451.5,503.72 L452.9,500.43 L455.9,497.66 L457.8,497.02 L463,497.02 L464.9,499.04 L466.9,502.44 L467.5,505.1 L467.5,505.1 Z" fill="#a8002a" stroke="#93001f" stroke-width="0.3" stroke-linejoin="round"/>
<rect x="217.2" y="507.8" width="13.2" height="2" fill="#6db33f"/>
<rect x="391.9" y="507.8" width="5.1" height="2" fill="#6db33f"/>
<rect x="104.5" y="521.5" width="9.3" height="2.3" fill="#2b4a87"/>
<rect x="120" y="521.5" width="9.3" height="2.3" fill="#2b4a87"/>
<rect x="150" y="521.5" width="15.5" height="2.3" fill="#2b4a87"/>
<rect x="167" y="521.5" width="15.4" height="2.3" fill="#2b4a87"/>
<rect x="203.4" y="521.5" width="13.2" height="2.3" fill="#2b4a87"/>
<rect x="217.7" y="521.5" width="12.7" height="2.3" fill="#2b4a87"/>
<rect x="270.4" y="521.5" width="5.6" height="2.3" fill="#2b4a87"/>
<rect x="278.2" y="521.5" width="5.8" height="2.3" fill="#2b4a87"/>
<rect x="313.9" y="521.5" width="9.6" height="2.3" fill="#2b4a87"/>
<rect x="342.7" y="521.5" width="10" height="2.3" fill="#2b4a87"/>
<rect x="383.1" y="521.5" width="5.1" height="2.3" fill="#2b4a87"/>
<rect x="392" y="521.5" width="5.5" height="2.3" fill="#2b4a87"/>
<rect x="435" y="521.5" width="9.6" height="2.3" fill="#2b4a87"/>
<rect x="448" y="521.5" width="9.7" height="2.3" fill="#2b4a87"/>
<line x1="80" y1="531.6" x2="107" y2="531.6" stroke="#9db0d6" stroke-width="0.8"/>
<rect x="88" y="531" width="1" height="1.2" fill="#6f8bc2"/>
<rect x="97" y="531" width="1" height="1.2" fill="#6f8bc2"/>
<rect x="105.5" y="529.5" width="2" height="4.8" fill="#2b4a87"/>
<rect x="107.4" y="530.3" width="1.8" height="3.2" fill="#2b4a87"/>
<line x1="136.2" y1="531.6" x2="192" y2="531.6" stroke="#9db0d6" stroke-width="0.8"/>
<rect x="146.5" y="531" width="1" height="1.2" fill="#6f8bc2"/>
<rect x="171.5" y="531" width="1" height="1.2" fill="#6f8bc2"/>
<rect x="181.5" y="531" width="1" height="1.2" fill="#6f8bc2"/>
<rect x="162.3" y="528.9" width="2.7" height="5.8" fill="#2b4a87"/>
<line x1="194.2" y1="531.6" x2="209" y2="531.6" stroke="#9db0d6" stroke-width="0.8"/>
<rect x="201" y="531" width="1" height="1.2" fill="#6f8bc2"/>
<rect x="208.5" y="528.9" width="3.5" height="5.8" fill="#2b4a87"/>
<rect x="212" y="530" width="6.9" height="3.4" fill="#2b4a87"/>
<line x1="250.5" y1="531.6" x2="305.5" y2="531.6" stroke="#9db0d6" stroke-width="0.8"/>
<rect x="261.1" y="531" width="1" height="1.2" fill="#6f8bc2"/>
<rect x="271.5" y="531" width="1" height="1.2" fill="#6f8bc2"/>
<rect x="281.9" y="531" width="1" height="1.2" fill="#6f8bc2"/>
<rect x="293" y="531" width="1" height="1.2" fill="#6f8bc2"/>
<line x1="310.4" y1="531.6" x2="341" y2="531.6" stroke="#9db0d6" stroke-width="0.8"/>
<rect x="320.3" y="531" width="1" height="1.2" fill="#6f8bc2"/>
<rect x="330.7" y="531" width="1" height="1.2" fill="#6f8bc2"/>
<rect x="339.3" y="528.9" width="3.4" height="5.8" fill="#2b4a87"/>
<line x1="367" y1="531.6" x2="391" y2="531.6" stroke="#9db0d6" stroke-width="0.8"/>
<rect x="374.5" y="531" width="1" height="1.2" fill="#6f8bc2"/>
<rect x="383" y="531" width="1" height="1.2" fill="#6f8bc2"/>
<rect x="390.8" y="528.9" width="2.7" height="5.8" fill="#2b4a87"/>
<rect x="393.5" y="530.2" width="1.5" height="3.2" fill="#2b4a87"/>
<line x1="425" y1="531.6" x2="476" y2="531.6" stroke="#9db0d6" stroke-width="0.8"/>
<rect x="435.1" y="531" width="1" height="1.2" fill="#6f8bc2"/>
<rect x="448.5" y="531" width="1" height="1.2" fill="#6f8bc2"/>
<rect x="461" y="531" width="1" height="1.2" fill="#6f8bc2"/>
<text x="105.6" y="546.3" font-size="7.7" text-anchor="middle" fill="#1a1a1a" stroke="#1a1a1a" stroke-width="0.18" font-style="italic">sec61a1</text>
<text x="165.4" y="546.3" font-size="7.7" text-anchor="middle" fill="#1a1a1a" stroke="#1a1a1a" stroke-width="0.18" font-style="italic">anxa2a</text>
<text x="218" y="546.3" font-size="7.7" text-anchor="middle" fill="#1a1a1a" stroke="#1a1a1a" stroke-width="0.18" font-style="italic">c1qc</text>
<text x="278.5" y="546.3" font-size="7.7" text-anchor="middle" fill="#1a1a1a" stroke="#1a1a1a" stroke-width="0.18" font-style="italic">ikzf1</text>
<text x="342" y="546.3" font-size="7.7" text-anchor="middle" fill="#1a1a1a" stroke="#1a1a1a" stroke-width="0.18" font-style="italic">cdc42l</text>
<text x="390.7" y="546.3" font-size="7.7" text-anchor="middle" fill="#1a1a1a" stroke="#1a1a1a" stroke-width="0.18" font-style="italic">tspan2a</text>
<text x="450.6" y="546.3" font-size="7.7" text-anchor="middle" fill="#1a1a1a" stroke="#1a1a1a" stroke-width="0.18" font-style="italic">cd79a</text>
<rect x="0.5" y="0.5" width="519" height="557" fill="none" stroke="#000" stroke-width="1.1"/>
</svg>
</body></html>
